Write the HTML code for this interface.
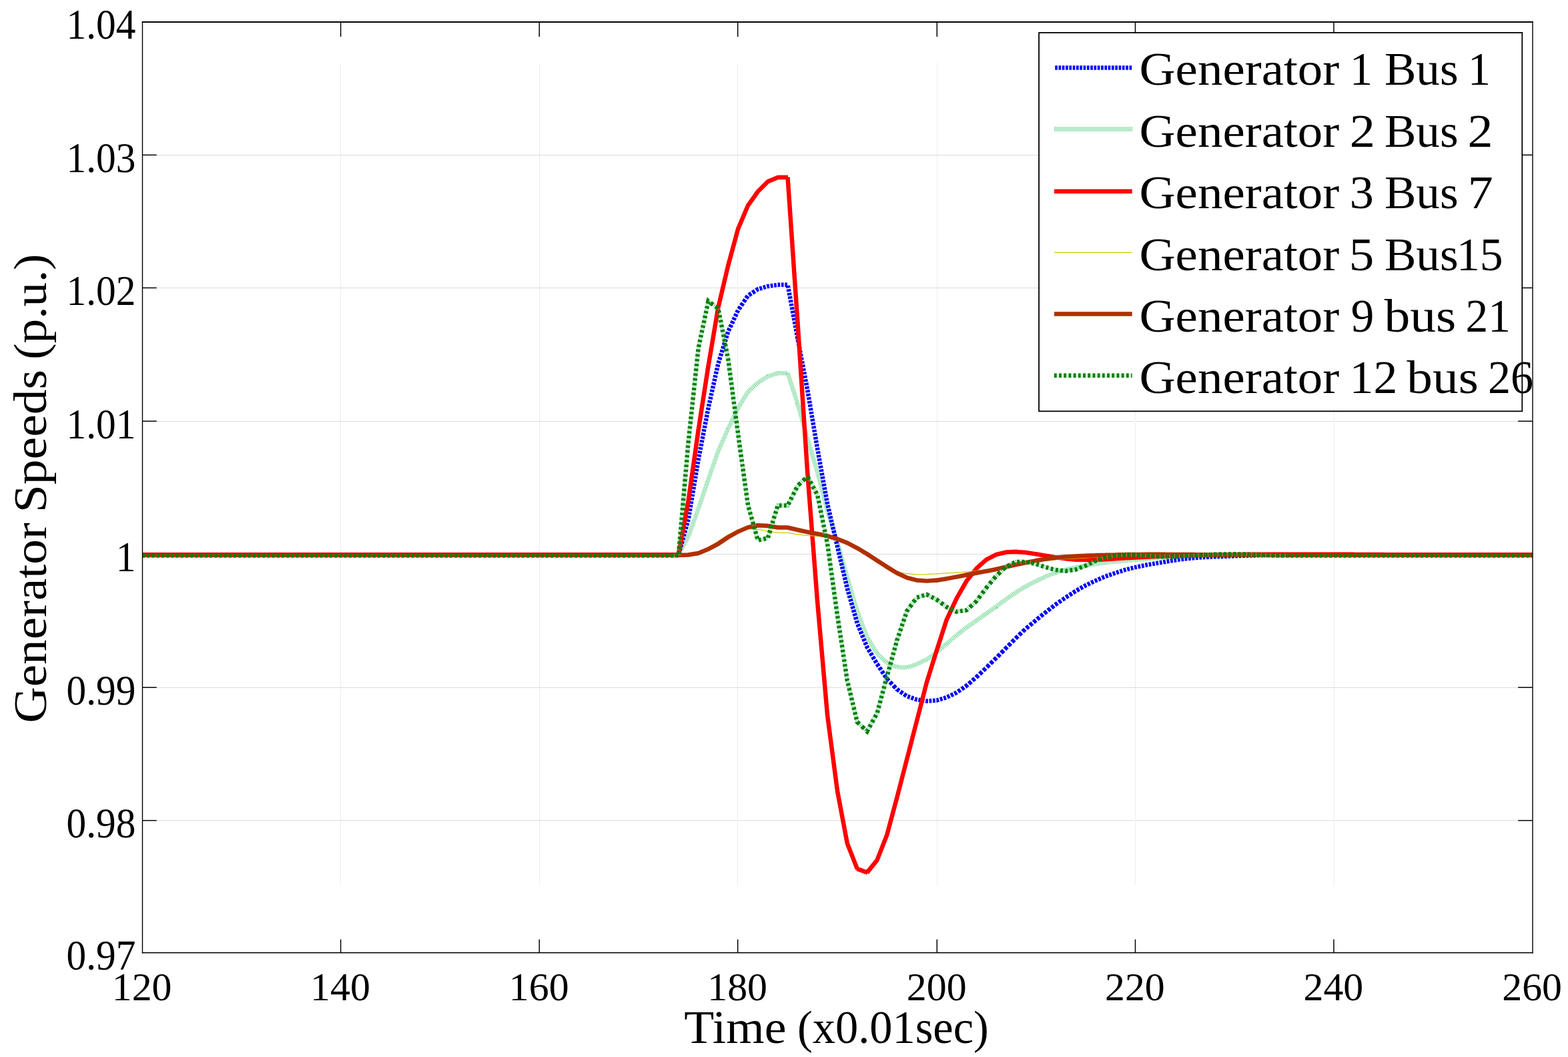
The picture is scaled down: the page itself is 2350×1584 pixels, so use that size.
<!DOCTYPE html>
<html lang="en">
<head>
<meta charset="utf-8">
<title>Generator Speeds</title>
<style>
html,body{margin:0;padding:0;background:#fff;}
body{width:2350px;height:1584px;overflow:hidden;}
svg{display:block;}
</style>
</head>
<body>
<svg xmlns="http://www.w3.org/2000/svg" width="2350" height="1584" viewBox="0 0 2350 1584">
<rect width="2350" height="1584" fill="#fff"/>
<defs><clipPath id="pc"><rect x="213.2" y="33.0" width="2083.5" height="1394.8"/></clipPath></defs>
<g stroke-width="1" stroke-dasharray="1 1" fill="none" shape-rendering="crispEdges">
<line x1="215" y1="232.5" x2="2296" y2="232.5" stroke="#bababa"/>
<line x1="215" y1="431.5" x2="2296" y2="431.5" stroke="#bababa"/>
<line x1="215" y1="631.5" x2="2296" y2="631.5" stroke="#bababa"/>
<line x1="215" y1="830.5" x2="2296" y2="830.5" stroke="#bababa"/>
<line x1="215" y1="1030.5" x2="2296" y2="1030.5" stroke="#bababa"/>
<line x1="215" y1="1229.5" x2="2296" y2="1229.5" stroke="#bababa"/>
<line x1="510.5" y1="95" x2="510.5" y2="1326" stroke="#dadada"/>
<line x1="808.5" y1="95" x2="808.5" y2="1326" stroke="#dadada"/>
<line x1="1105.5" y1="95" x2="1105.5" y2="1326" stroke="#dadada"/>
<line x1="1404.5" y1="95" x2="1404.5" y2="1326" stroke="#dadada"/>
<line x1="1701.5" y1="95" x2="1701.5" y2="1326" stroke="#dadada"/>
<line x1="1999.5" y1="95" x2="1999.5" y2="1326" stroke="#dadada"/>
</g>
<g stroke="#000" stroke-width="1.5" fill="none">
<line x1="510.6" y1="33.0" x2="510.6" y2="55.0"/>
<line x1="510.6" y1="1427.8" x2="510.6" y2="1407.8"/>
<line x1="808.3" y1="33.0" x2="808.3" y2="55.0"/>
<line x1="808.3" y1="1427.8" x2="808.3" y2="1407.8"/>
<line x1="1105.7" y1="33.0" x2="1105.7" y2="55.0"/>
<line x1="1105.7" y1="1427.8" x2="1105.7" y2="1407.8"/>
<line x1="1404.3" y1="33.0" x2="1404.3" y2="55.0"/>
<line x1="1404.3" y1="1427.8" x2="1404.3" y2="1407.8"/>
<line x1="1701.5" y1="33.0" x2="1701.5" y2="55.0"/>
<line x1="1701.5" y1="1427.8" x2="1701.5" y2="1407.8"/>
<line x1="1999.0" y1="33.0" x2="1999.0" y2="55.0"/>
<line x1="1999.0" y1="1427.8" x2="1999.0" y2="1407.8"/>
<line x1="213.2" y1="232.3" x2="234.7" y2="232.3"/>
<line x1="2296.7" y1="232.3" x2="2275.2" y2="232.3"/>
<line x1="213.2" y1="431.4" x2="234.7" y2="431.4"/>
<line x1="2296.7" y1="431.4" x2="2275.2" y2="431.4"/>
<line x1="213.2" y1="631.2" x2="234.7" y2="631.2"/>
<line x1="2296.7" y1="631.2" x2="2275.2" y2="631.2"/>
<line x1="213.2" y1="830.5" x2="234.7" y2="830.5"/>
<line x1="2296.7" y1="830.5" x2="2275.2" y2="830.5"/>
<line x1="213.2" y1="1030.2" x2="234.7" y2="1030.2"/>
<line x1="2296.7" y1="1030.2" x2="2275.2" y2="1030.2"/>
<line x1="213.2" y1="1229.6" x2="234.7" y2="1229.6"/>
<line x1="2296.7" y1="1229.6" x2="2275.2" y2="1229.6"/>
</g>
<g clip-path="url(#pc)" fill="none" stroke-linejoin="miter" stroke-miterlimit="3" stroke-width="6.5">
<path d="M213.2 831.5H1002.0M1939.5 831.5H2296.7" stroke="#74d897" stroke-dasharray="1 0.9"/>
<path d="M213.2 831.5H1002.0M1939.5 831.5H2296.7" stroke="#0000ff" stroke-dasharray="3.7 1.7"/>
<path d="M1001.7 831.5L1002.0 831.5L1002.7 831.5M1003.6 831.5L1004.6 831.5M1005.5 831.5L1006.5 831.5M1007.4 831.5L1008.4 831.5M1009.3 831.5L1010.3 831.5M1011.2 831.5L1012.2 831.5M1013.1 831.5L1014.1 831.5M1015.0 831.5L1016.0 831.5M1016.9 831.4L1017.4 830.4M1017.9 829.5L1018.4 828.5M1018.9 827.6L1019.5 826.6M1020.0 825.7L1020.5 824.7M1021.0 823.8L1021.5 822.8M1022.0 821.9L1022.6 820.9M1023.0 820.0L1023.6 819.0M1024.1 818.1L1024.6 817.1M1025.1 816.2L1025.6 815.2M1026.1 814.3L1026.7 813.3M1027.2 812.4L1027.7 811.4M1028.2 810.5L1028.7 809.5M1029.2 808.6L1029.8 807.6M1030.2 806.7L1030.8 805.7M1031.3 804.8L1031.7 804.0L1031.8 803.8M1032.1 802.9L1032.5 801.9M1032.8 801.0L1033.1 800.0M1033.5 799.1L1033.8 798.1M1034.1 797.2L1034.5 796.2M1034.8 795.3L1035.2 794.3M1035.5 793.4L1035.9 792.4M1036.2 791.5L1036.5 790.5M1036.9 789.6L1037.2 788.6M1037.6 787.7L1037.9 786.7M1038.2 785.8L1038.6 784.8M1038.9 783.9L1039.3 782.9M1039.6 782.0L1040.0 781.0M1040.3 780.1L1040.6 779.1M1041.0 778.2L1041.3 777.2M1041.6 776.3L1042.0 775.3M1042.3 774.4L1042.7 773.4M1043.0 772.5L1043.4 771.5M1043.7 770.6L1044.0 769.6M1044.4 768.7L1044.7 767.7M1045.0 766.8L1045.4 765.8M1045.7 764.9L1046.1 763.9M1046.4 763.0L1046.6 762.5L1046.8 762.0M1047.1 761.1L1047.4 760.1M1047.7 759.2L1048.0 758.2M1048.4 757.3L1048.7 756.3M1049.0 755.4L1049.3 754.4M1049.6 753.5L1050.0 752.5M1050.3 751.6L1050.6 750.6M1050.9 749.7L1051.3 748.7M1051.6 747.8L1051.9 746.8M1052.2 745.9L1052.6 744.9M1052.9 744.0L1053.2 743.0M1053.5 742.1L1053.8 741.1M1054.1 740.2L1054.5 739.2M1054.8 738.3L1055.1 737.3M1055.4 736.4L1055.8 735.4M1056.1 734.5L1056.4 733.5M1056.7 732.6L1057.1 731.6M1057.4 730.7L1057.7 729.7M1058.0 728.8L1058.4 727.8M1058.7 726.9L1059.0 725.9M1059.3 725.0L1059.6 724.0M1059.9 723.1L1060.3 722.1M1060.6 721.2L1060.9 720.2M1061.2 719.3L1061.5 718.6L1061.6 718.3M1061.9 717.4L1062.2 716.4M1062.6 715.5L1062.9 714.5M1063.2 713.6L1063.6 712.6M1063.9 711.7L1064.2 710.7M1064.5 709.8L1064.9 708.8M1065.2 707.9L1065.6 706.9M1065.9 706.0L1066.2 705.0M1066.5 704.1L1066.9 703.1M1067.2 702.2L1067.5 701.2M1067.9 700.3L1068.2 699.3M1068.5 698.4L1068.9 697.4M1069.2 696.5L1069.5 695.5M1069.9 694.6L1070.2 693.6M1070.5 692.7L1070.9 691.7M1071.2 690.8L1071.5 689.8M1071.8 688.9L1072.2 687.9M1072.5 687.0L1072.9 686.0M1073.2 685.1L1073.5 684.1M1073.8 683.2L1074.2 682.2M1074.5 681.3L1074.8 680.3M1075.2 679.4L1075.5 678.4M1075.8 677.5L1076.2 676.5M1076.5 675.6L1077.0 674.6M1077.4 673.7L1077.8 672.7M1078.2 671.8L1078.7 670.8M1079.1 669.9L1079.5 668.9M1079.9 668.0L1080.3 667.0M1080.7 666.1L1081.2 665.1M1081.6 664.2L1082.0 663.2M1082.4 662.3L1082.9 661.3M1083.3 660.4L1083.7 659.4M1084.1 658.5L1084.6 657.5M1085.0 656.6L1085.4 655.6M1085.8 654.7L1086.3 653.7M1086.7 652.8L1087.1 651.8M1087.5 650.9L1087.9 649.9M1088.3 649.0L1088.8 648.0M1089.2 647.1L1089.6 646.1M1090.0 645.2L1090.5 644.2M1090.9 643.3L1091.2 642.5L1091.3 642.3M1091.8 641.4L1092.2 640.4M1092.7 639.5L1093.2 638.5M1093.6 637.6L1094.1 636.6M1094.5 635.7L1095.0 634.7M1095.4 633.8L1095.9 632.8M1096.3 631.9L1096.8 630.9M1097.2 630.0L1097.7 629.0M1098.2 628.1L1098.6 627.1M1099.1 626.2L1099.6 625.2M1100.0 624.3L1100.5 623.3M1100.9 622.4L1101.4 621.4M1101.8 620.5L1102.3 619.5M1102.7 618.6L1103.2 617.6M1103.7 616.7L1104.1 615.7M1104.6 614.8L1105.1 613.8M1105.5 612.9L1106.0 611.9M1106.5 611.0L1107.1 610.0M1107.6 609.1L1108.2 608.1M1108.8 607.2L1109.4 606.2M1109.9 605.3L1110.5 604.3M1111.1 603.4L1111.7 602.4M1112.2 601.5L1112.8 600.5M1113.4 599.6L1114.0 598.6M1114.5 597.7L1115.1 596.7M1115.7 595.8L1116.3 594.8M1116.8 593.9L1117.4 592.9M1118.0 592.0L1118.6 591.0M1119.1 590.1L1119.7 589.1M1120.3 588.2L1120.9 587.2M1121.7 586.4L1122.7 585.5M1123.6 584.7L1124.6 583.8M1125.5 583.0L1126.5 582.0M1127.4 581.2L1128.4 580.3M1129.3 579.5L1130.3 578.6M1131.2 577.8L1132.2 576.9M1133.1 576.1L1134.1 575.1M1135.0 574.3L1135.9 573.5L1136.0 573.4M1136.9 572.9L1137.9 572.2M1138.8 571.7L1139.8 571.0M1140.7 570.4L1141.7 569.8M1142.6 569.2L1143.6 568.6M1144.5 568.0L1145.5 567.4M1146.4 566.8L1147.4 566.2M1148.3 565.6L1149.3 565.0M1150.2 564.4L1150.8 564.0L1151.2 563.9M1152.1 563.6L1153.1 563.3M1154.0 563.0L1155.0 562.6M1155.9 562.4L1156.9 562.0M1157.8 561.7L1158.8 561.4M1159.7 561.1L1160.7 560.8M1161.6 560.5L1162.6 560.2M1163.5 559.9L1164.5 559.6M1165.4 559.3L1165.7 559.2L1166.4 559.2M1167.3 559.2L1168.3 559.2M1169.2 559.2L1170.2 559.2M1171.1 559.2L1172.1 559.2M1173.0 559.2L1174.0 559.2M1174.9 559.2L1175.9 559.2M1176.8 559.2L1177.8 559.2M1178.7 559.2L1179.7 559.2M1180.6 559.2L1180.9 560.2M1181.2 561.1L1181.5 562.1M1181.8 563.0L1182.1 564.0M1182.4 564.9L1182.7 565.9M1183.0 566.8L1183.3 567.8M1183.6 568.7L1184.0 569.7M1184.3 570.6L1184.6 571.6M1184.9 572.5L1185.2 573.5M1185.5 574.4L1185.8 575.4M1186.1 576.3L1186.4 577.3M1186.7 578.2L1187.0 579.2M1187.3 580.1L1187.7 581.1M1188.0 582.0L1188.3 583.0M1188.6 583.9L1188.9 584.9M1189.2 585.8L1189.5 586.8M1189.8 587.7L1190.1 588.7M1190.4 589.6L1190.8 590.6M1191.0 591.5L1191.4 592.5M1191.7 593.4L1192.0 594.4M1192.3 595.3L1192.6 596.3M1192.9 597.2L1193.2 598.2M1193.5 599.1L1193.8 600.1M1194.1 601.0L1194.5 602.0M1194.8 602.9L1195.1 603.9M1195.4 604.8L1195.4 605.0L1195.7 605.8M1195.9 606.7L1196.2 607.7M1196.4 608.6L1196.7 609.6M1197.0 610.5L1197.3 611.5M1197.5 612.4L1197.8 613.4M1198.0 614.3L1198.3 615.3M1198.6 616.2L1198.9 617.2M1199.1 618.1L1199.4 619.1M1199.6 620.0L1199.9 621.0M1200.2 621.9L1200.5 622.9M1200.7 623.8L1201.0 624.8M1201.2 625.7L1201.5 626.7M1201.8 627.6L1202.1 628.6M1202.3 629.5L1202.6 630.5M1202.8 631.4L1203.1 632.4M1203.4 633.3L1203.7 634.3M1203.9 635.2L1204.2 636.2M1204.4 637.1L1204.7 638.1M1205.0 639.0L1205.3 640.0M1205.5 640.9L1205.8 641.9M1206.0 642.8L1206.3 643.8M1206.6 644.7L1206.9 645.7M1207.1 646.6L1207.4 647.6M1207.6 648.5L1207.9 649.5M1208.2 650.4L1208.5 651.4M1208.7 652.3L1209.0 653.3M1209.2 654.2L1209.5 655.2M1209.8 656.1L1210.1 657.1M1210.3 658.0L1210.6 659.0M1210.9 659.9L1211.2 660.9M1211.4 661.8L1211.7 662.8M1212.0 663.7L1212.3 664.7M1212.6 665.6L1212.9 666.6M1213.1 667.5L1213.4 668.5M1213.7 669.4L1214.0 670.4M1214.3 671.3L1214.6 672.3M1214.8 673.2L1215.1 674.2M1215.4 675.1L1215.7 676.1M1216.0 677.0L1216.3 678.0M1216.5 678.9L1216.8 679.9M1217.1 680.8L1217.4 681.8M1217.7 682.7L1218.0 683.7M1218.2 684.6L1218.5 685.6M1218.8 686.5L1219.1 687.5M1219.4 688.4L1219.7 689.4M1219.9 690.3L1220.2 691.3M1220.5 692.2L1220.8 693.2M1221.1 694.1L1221.4 695.1M1221.6 696.0L1221.9 697.0M1222.2 697.9L1222.5 698.9M1222.8 699.8L1223.1 700.8M1223.3 701.7L1223.6 702.7M1223.9 703.6L1224.2 704.6M1224.5 705.5L1224.7 706.5M1225.0 707.4L1225.2 708.0L1225.3 708.4M1225.5 709.3L1225.8 710.3M1226.0 711.2L1226.3 712.2M1226.5 713.1L1226.8 714.1M1227.0 715.0L1227.2 716.0M1227.5 716.9L1227.7 717.9M1228.0 718.8L1228.2 719.8M1228.5 720.7L1228.7 721.7M1228.9 722.6L1229.2 723.6M1229.4 724.5L1229.7 725.5M1229.9 726.4L1230.2 727.4M1230.4 728.3L1230.7 729.3M1230.9 730.2L1231.1 731.2M1231.4 732.1L1231.6 733.1M1231.9 734.0L1232.1 735.0M1232.4 735.9L1232.6 736.9M1232.8 737.8L1233.1 738.8M1233.3 739.7L1233.6 740.7M1233.8 741.6L1234.1 742.6M1234.3 743.5L1234.6 744.5M1234.8 745.4L1235.0 746.4M1235.3 747.3L1235.5 748.3M1235.8 749.2L1236.0 750.2M1236.3 751.1L1236.5 752.1M1236.7 753.0L1237.0 754.0M1237.2 754.9L1237.5 755.9M1237.7 756.8L1238.0 757.8M1238.2 758.7L1238.5 759.7M1238.7 760.6L1238.9 761.6M1239.2 762.5L1239.4 763.5M1239.7 764.4L1239.9 765.4M1240.2 766.3L1240.5 767.3M1240.8 768.2L1241.1 769.2M1241.4 770.1L1241.7 771.1M1242.0 772.0L1242.3 773.0M1242.6 773.9L1243.0 774.9M1243.2 775.8L1243.6 776.8M1243.9 777.7L1244.2 778.7M1244.5 779.6L1244.8 780.6M1245.1 781.5L1245.4 782.5M1245.7 783.4L1246.0 784.4M1246.3 785.3L1246.6 786.3M1246.9 787.2L1247.3 788.2M1247.6 789.1L1247.9 790.1M1248.2 791.0L1248.5 792.0M1248.8 792.9L1249.1 793.9M1249.4 794.8L1249.7 795.8M1250.0 796.7L1250.3 797.7M1250.6 798.6L1250.9 799.6M1251.2 800.5L1251.6 801.5M1251.9 802.4L1252.2 803.4M1252.5 804.3L1252.8 805.3M1253.1 806.2L1253.4 807.2M1253.7 808.1L1254.0 809.1M1254.3 810.0L1254.6 811.0M1254.9 811.9L1255.0 812.0L1255.2 812.9M1255.5 813.8L1255.7 814.8M1256.0 815.7L1256.3 816.7M1256.5 817.6L1256.8 818.6M1257.1 819.5L1257.3 820.5M1257.6 821.4L1257.9 822.4M1258.1 823.3L1258.4 824.3M1258.7 825.2L1258.9 826.2M1259.2 827.1L1259.5 828.1M1259.7 829.0L1260.0 830.0M1260.3 830.9L1260.5 831.9M1260.8 832.8L1261.1 833.8M1261.3 834.7L1261.6 835.7M1261.9 836.6L1262.1 837.6M1262.4 838.5L1262.7 839.5M1262.9 840.4L1263.2 841.4M1263.5 842.3L1263.7 843.3M1264.0 844.2L1264.3 845.2M1264.5 846.1L1264.8 847.1M1265.1 848.0L1265.3 849.0M1265.6 849.9L1265.9 850.9M1266.1 851.8L1266.4 852.8M1266.7 853.7L1266.9 854.7M1267.2 855.6L1267.5 856.6M1267.7 857.5L1268.0 858.5M1268.3 859.4L1268.6 860.4M1268.8 861.3L1269.1 862.3M1269.3 863.2L1269.6 864.2M1269.9 865.1L1270.2 866.1M1270.4 867.0L1270.7 868.0M1271.0 868.9L1271.3 869.9M1271.5 870.8L1271.8 871.8M1272.1 872.7L1272.4 873.7M1272.6 874.6L1272.9 875.6M1273.2 876.5L1273.5 877.5M1273.8 878.4L1274.0 879.4M1274.3 880.3L1274.6 881.3M1274.9 882.2L1275.2 883.2M1275.4 884.1L1275.7 885.1M1276.0 886.0L1276.3 887.0M1276.5 887.9L1276.8 888.9M1277.1 889.8L1277.4 890.8M1277.6 891.7L1277.9 892.7M1278.2 893.6L1278.5 894.6M1278.7 895.5L1279.0 896.5M1279.3 897.4L1279.6 898.4M1279.9 899.3L1280.1 900.3M1280.4 901.2L1280.7 902.2M1281.0 903.1L1281.3 904.1M1281.5 905.0L1281.8 906.0M1282.1 906.9L1282.4 907.9M1282.6 908.8L1282.9 909.8M1283.2 910.7L1283.5 911.7M1283.7 912.6L1284.0 913.6M1284.3 914.5L1284.6 915.5M1284.9 916.4L1285.3 917.4M1285.6 918.3L1286.0 919.3M1286.3 920.2L1286.7 921.2M1287.1 922.1L1287.5 923.1M1287.8 924.0L1288.2 925.0M1288.5 925.9L1288.9 926.9M1289.3 927.8L1289.7 928.8M1290.0 929.7L1290.4 930.7M1290.7 931.6L1291.1 932.6M1291.5 933.5L1291.8 934.5M1292.2 935.4L1292.6 936.4M1292.9 937.3L1293.3 938.3M1293.6 939.2L1294.0 940.2M1294.4 941.1L1294.8 942.1M1295.1 943.0L1295.5 944.0M1295.8 944.9L1296.2 945.9M1296.6 946.8L1297.0 947.8M1297.3 948.7L1297.7 949.7M1298.0 950.6L1298.4 951.6M1298.8 952.5L1299.1 953.5M1299.5 954.4L1299.6 954.7L1300.0 955.4M1300.6 956.3L1301.2 957.3M1301.7 958.2L1302.4 959.2M1302.9 960.1L1303.5 961.1M1304.1 962.0L1304.7 963.0M1305.2 963.9L1305.8 964.9M1306.4 965.8L1307.0 966.8M1307.5 967.7L1308.1 968.7M1308.7 969.6L1309.3 970.6M1309.8 971.5L1310.4 972.5M1311.0 973.4L1311.6 974.4M1312.1 975.3L1312.7 976.3M1313.3 977.2L1313.9 978.2M1314.4 979.1L1314.5 979.2L1315.4 980.1M1316.3 981.0L1317.3 981.9M1318.2 982.8L1319.2 983.7M1320.1 984.6L1321.1 985.5M1322.0 986.4L1323.0 987.3M1323.9 988.2L1324.9 989.2M1325.8 990.0L1326.8 991.0M1327.7 991.8L1328.7 992.8M1329.6 993.5L1330.6 993.9M1331.5 994.3L1332.5 994.7M1333.4 995.1L1334.4 995.5M1335.3 995.9L1336.3 996.3M1337.2 996.7L1338.2 997.1M1339.1 997.5L1340.1 997.9M1341.0 998.3L1342.0 998.7M1342.9 999.0L1343.9 999.5M1344.8 999.6L1345.8 999.7M1346.7 999.7L1347.7 999.8M1348.6 999.9L1349.6 999.9M1350.5 1000.0L1351.5 1000.0M1352.4 1000.1L1353.4 1000.2M1354.3 1000.2L1355.3 1000.3M1356.2 1000.3L1357.2 1000.4M1358.1 1000.4L1359.1 1000.5M1360.0 1000.2L1361.0 999.8M1361.9 999.5L1362.9 999.2M1363.8 998.9L1364.8 998.5M1365.7 998.2L1366.7 997.8M1367.6 997.5L1368.6 997.2M1369.5 996.9L1370.5 996.5M1371.4 996.2L1372.4 995.9M1373.3 995.5L1374.0 995.3L1374.3 995.2M1375.2 994.7L1376.2 994.2M1377.1 993.8L1378.1 993.3M1379.0 992.9L1380.0 992.4M1380.9 992.0L1381.9 991.5M1382.8 991.1L1383.8 990.6M1384.7 990.2L1385.7 989.7M1386.6 989.3L1387.6 988.8M1388.5 988.4L1388.9 988.2L1389.5 987.7M1390.4 987.1L1391.4 986.4M1392.3 985.7L1393.3 985.0M1394.2 984.3L1395.2 983.6M1396.1 982.9L1397.1 982.2M1398.0 981.5L1399.0 980.8M1399.9 980.1L1400.9 979.4M1401.8 978.7L1402.8 978.0M1403.7 977.3L1403.8 977.3L1404.7 976.5M1405.6 975.8L1406.6 975.0M1407.5 974.2L1408.5 973.4M1409.4 972.6L1410.4 971.8M1411.3 971.1L1412.3 970.2M1413.2 969.5L1414.2 968.7M1415.1 967.9L1416.1 967.1M1417.0 966.4L1418.0 965.5M1418.9 964.8L1419.9 963.9M1420.8 963.1L1421.8 962.3M1422.7 961.5L1423.7 960.6M1424.6 959.8L1425.6 959.0M1426.5 958.2L1427.5 957.3M1428.4 956.5L1429.4 955.7M1430.3 954.9L1431.3 954.0M1432.2 953.2L1433.2 952.4M1434.1 951.6L1435.1 950.9M1436.0 950.2L1437.0 949.4M1437.9 948.7L1438.9 947.9M1439.8 947.2L1440.8 946.4M1441.7 945.7L1442.7 944.9M1443.6 944.2L1444.6 943.5M1445.5 942.8L1446.5 942.0M1447.4 941.3L1448.4 940.5M1449.3 939.9L1450.3 939.2M1451.2 938.5L1452.2 937.8M1453.1 937.2L1454.1 936.5M1455.0 935.8L1456.0 935.1M1456.9 934.5L1457.9 933.8M1458.8 933.2L1459.8 932.5M1460.7 931.8L1461.7 931.1M1462.6 930.5L1463.3 930.0L1463.6 929.8M1464.5 929.1L1465.5 928.4M1466.4 927.8L1467.4 927.1M1468.3 926.5L1469.3 925.8M1470.2 925.1L1471.2 924.4M1472.1 923.8L1473.1 923.1M1474.0 922.4L1475.0 921.7M1475.9 921.1L1476.9 920.4M1477.8 919.8L1478.2 919.5L1478.8 919.0M1479.7 918.4L1480.7 917.7M1481.6 917.1L1482.6 916.3M1483.5 915.7L1484.5 915.0M1485.4 914.3L1486.4 913.6M1487.3 913.0L1488.3 912.3M1489.2 911.6L1490.2 910.9M1491.1 910.3L1492.1 909.6M1493.0 908.9L1493.1 908.9L1494.0 908.2M1494.9 907.5L1495.9 906.8M1496.8 906.1L1497.8 905.4M1498.7 904.7L1499.7 904.0M1500.6 903.3L1501.6 902.6M1502.5 901.9L1503.5 901.2M1504.4 900.5L1505.4 899.8M1506.3 899.1L1507.3 898.4M1508.2 897.7L1509.2 897.0M1510.1 896.4L1511.1 895.7M1512.0 895.1L1513.0 894.4M1513.9 893.8L1514.9 893.1M1515.8 892.5L1516.8 891.8M1517.7 891.1L1518.7 890.4M1519.6 889.8L1520.6 889.1M1521.5 888.5L1522.5 887.8M1523.4 887.2L1524.4 886.6M1525.3 886.1L1526.3 885.5M1527.2 884.9L1528.2 884.3M1529.1 883.8L1530.1 883.2M1531.0 882.6L1532.0 882.0M1532.9 881.5L1533.9 880.9M1534.8 880.4L1535.8 879.7M1536.7 879.2L1537.7 878.6L1537.7 878.6M1538.6 878.1L1539.6 877.6M1540.5 877.1L1541.5 876.6M1542.4 876.2L1543.4 875.6M1544.3 875.2L1545.3 874.7M1546.2 874.2L1547.2 873.7M1548.1 873.2L1549.1 872.7M1550.0 872.2L1551.0 871.7M1551.9 871.3L1552.6 870.9L1552.9 870.7M1553.8 870.3L1554.8 869.8M1555.7 869.4L1556.7 868.9M1557.6 868.5L1558.6 868.0M1559.5 867.6L1560.5 867.1M1561.4 866.7L1562.4 866.2M1563.3 865.8L1564.3 865.3M1565.2 864.9L1566.2 864.4M1567.1 864.0L1567.5 863.8L1568.1 863.6M1569.0 863.2L1570.0 862.8M1570.9 862.5L1571.9 862.1M1572.8 861.7L1573.8 861.3M1574.7 861.0L1575.7 860.6M1576.6 860.2L1577.6 859.8M1578.5 859.5L1579.5 859.1M1580.4 858.8L1581.4 858.4M1582.3 858.0L1582.4 858.0L1583.3 857.7M1584.2 857.4L1585.2 857.1M1586.1 856.9L1587.1 856.6M1588.0 856.3L1589.0 856.0M1589.9 855.7L1590.9 855.4M1591.8 855.1L1592.8 854.8M1593.7 854.6L1594.7 854.3M1595.6 854.0L1596.6 853.7M1597.5 853.4L1598.5 853.2M1599.4 853.0L1600.4 852.8M1601.3 852.6L1602.3 852.4M1603.2 852.2L1604.2 852.0M1605.1 851.8L1606.1 851.5M1607.0 851.3L1608.0 851.1M1608.9 850.9L1609.9 850.7M1610.8 850.5L1611.8 850.3M1612.7 850.1L1613.7 849.9M1614.6 849.8L1615.6 849.6M1616.5 849.5L1617.5 849.3M1618.4 849.1L1619.4 849.0M1620.3 848.8L1621.3 848.7M1622.2 848.5L1623.2 848.3M1624.1 848.2L1625.1 848.0M1626.0 847.9L1627.0 847.7L1627.0 847.7M1627.9 847.5L1628.9 847.4M1629.8 847.2L1630.8 847.0M1631.7 846.9L1632.7 846.7M1633.6 846.5L1634.6 846.4M1635.5 846.2L1636.5 846.0M1637.4 845.9L1638.4 845.7M1639.3 845.5L1640.3 845.4M1641.2 845.2L1641.9 845.1L1642.2 845.1M1643.1 844.9L1644.1 844.8M1645.0 844.7L1646.0 844.5M1646.9 844.4L1647.9 844.3M1648.8 844.2L1649.8 844.0M1650.7 843.9L1651.7 843.8M1652.6 843.7L1653.6 843.5M1654.5 843.4L1655.5 843.3M1656.4 843.1L1656.8 843.1L1657.4 843.0M1658.3 842.9L1659.3 842.8M1660.2 842.7L1661.2 842.6M1662.1 842.5L1663.1 842.4M1664.0 842.3L1665.0 842.2M1665.9 842.1L1666.9 842.0M1667.8 841.9L1668.8 841.8M1669.7 841.7L1670.7 841.6M1671.6 841.5L1671.7 841.5L1672.6 841.4M1673.5 841.3L1674.5 841.2M1675.4 841.2L1676.4 841.1M1677.3 841.0L1678.3 840.9M1679.2 840.8L1680.2 840.8M1681.1 840.7L1682.1 840.6M1683.0 840.5L1684.0 840.4M1684.9 840.3L1685.9 840.3M1686.8 840.2L1687.8 840.1M1688.7 840.0L1689.7 839.9M1690.6 839.8L1691.6 839.8M1692.5 839.7L1693.5 839.6M1694.4 839.5L1695.4 839.4M1696.3 839.3L1697.3 839.3M1698.2 839.2L1699.2 839.1M1700.1 839.0L1701.1 838.9M1702.0 838.9L1703.0 838.8M1703.9 838.7L1704.9 838.6M1705.8 838.5L1706.8 838.5M1707.7 838.4L1708.7 838.3M1709.6 838.2L1710.6 838.2M1711.5 838.1L1712.5 838.0M1713.4 837.9L1714.4 837.9M1715.3 837.8L1716.3 837.7L1716.3 837.7M1717.2 837.6L1718.2 837.6M1719.1 837.5L1720.1 837.4M1721.0 837.4L1722.0 837.3M1722.9 837.3L1723.9 837.2M1724.8 837.1L1725.8 837.1M1726.7 837.0L1727.7 836.9M1728.6 836.9L1729.6 836.8M1730.5 836.7L1731.2 836.7L1731.5 836.7M1732.4 836.6L1733.4 836.6M1734.3 836.5L1735.3 836.4M1736.2 836.4L1737.2 836.3M1738.1 836.3L1739.1 836.2M1740.0 836.2L1741.0 836.1M1741.9 836.1L1742.9 836.0M1743.8 835.9L1744.8 835.9M1745.7 835.8L1746.1 835.8L1746.7 835.8M1747.6 835.7L1748.6 835.7M1749.5 835.6L1750.5 835.6M1751.4 835.5L1752.4 835.5M1753.3 835.4L1754.3 835.4M1755.2 835.3L1756.2 835.3M1757.1 835.2L1758.1 835.2M1759.0 835.1L1760.0 835.0M1760.9 835.0L1760.9 835.0L1761.9 835.0M1762.8 834.9L1763.8 834.9M1764.7 834.8L1765.7 834.8M1766.6 834.7L1767.6 834.7M1768.5 834.6L1769.5 834.6M1770.4 834.6L1771.4 834.5M1772.3 834.5L1773.3 834.4M1774.2 834.4L1775.2 834.3M1776.1 834.3L1777.1 834.2M1778.0 834.2L1779.0 834.2M1779.9 834.1L1780.9 834.1M1781.8 834.1L1782.8 834.0M1783.7 834.0L1784.7 833.9M1785.6 833.9L1786.6 833.9M1787.5 833.8L1788.5 833.8M1789.4 833.8L1790.4 833.7M1791.3 833.7L1792.3 833.6M1793.2 833.6L1794.2 833.6M1795.1 833.6L1796.1 833.5M1797.0 833.5L1798.0 833.5M1798.9 833.4L1799.9 833.4M1800.8 833.4L1801.8 833.3M1802.7 833.3L1803.7 833.3M1804.6 833.2L1805.6 833.2L1805.6 833.2M1806.5 833.2L1807.5 833.1M1808.4 833.1L1809.4 833.1M1810.3 833.1L1811.3 833.0M1812.2 833.0L1813.2 833.0M1814.1 833.0L1815.1 832.9M1816.0 832.9L1817.0 832.9M1817.9 832.9L1818.9 832.8M1819.8 832.8L1820.5 832.8L1820.8 832.8M1821.7 832.8L1822.7 832.7M1823.6 832.7L1824.6 832.7M1825.5 832.7L1826.5 832.6M1827.4 832.6L1828.4 832.6M1829.3 832.6L1830.3 832.5M1831.2 832.5L1832.2 832.5M1833.1 832.5L1834.1 832.4M1835.0 832.4L1835.4 832.4L1836.0 832.4M1836.9 832.4L1837.9 832.3M1838.8 832.3L1839.8 832.3M1840.7 832.3L1841.7 832.2M1842.6 832.2L1843.6 832.2M1844.5 832.2L1845.5 832.1M1846.4 832.1L1847.4 832.1M1848.3 832.1L1849.3 832.0M1850.2 832.0L1850.2 832.0L1851.2 832.0M1852.1 831.9L1853.1 831.9M1854.0 831.9L1855.0 831.8M1855.9 831.8L1856.9 831.8M1857.8 831.7L1858.8 831.7M1859.7 831.7L1860.7 831.6M1861.6 831.6L1862.6 831.6M1863.5 831.6L1864.5 831.5M1865.4 831.5L1866.4 831.5M1867.3 831.5L1868.3 831.5M1869.2 831.5L1870.2 831.5M1871.1 831.5L1872.1 831.5M1873.0 831.5L1874.0 831.5M1874.9 831.5L1875.9 831.5M1876.8 831.5L1877.8 831.5M1878.7 831.5L1879.7 831.5M1880.6 831.5L1881.6 831.5M1882.5 831.5L1883.5 831.5M1884.4 831.5L1885.4 831.5M1886.3 831.5L1887.3 831.5M1888.2 831.5L1889.2 831.5M1890.1 831.5L1891.1 831.5M1892.0 831.5L1893.0 831.5M1893.9 831.5L1894.9 831.5L1894.9 831.5M1895.8 831.5L1896.8 831.5M1897.7 831.5L1898.7 831.5M1899.6 831.5L1900.6 831.5M1901.5 831.5L1902.5 831.5M1903.4 831.5L1904.4 831.5M1905.3 831.5L1906.3 831.5M1907.2 831.5L1908.2 831.5M1909.1 831.5L1909.8 831.5L1910.1 831.5M1911.0 831.5L1912.0 831.5M1912.9 831.5L1913.9 831.5M1914.8 831.5L1915.8 831.5M1916.7 831.5L1917.7 831.5M1918.6 831.5L1919.6 831.5M1920.5 831.5L1921.5 831.5M1922.4 831.5L1923.4 831.5M1924.3 831.5L1924.6 831.5L1925.3 831.5M1926.2 831.5L1927.2 831.5M1928.1 831.5L1929.1 831.5M1930.0 831.5L1931.0 831.5M1931.9 831.5L1932.9 831.5M1933.8 831.5L1934.8 831.5M1935.7 831.5L1936.7 831.5M1937.6 831.5L1938.6 831.5M1939.5 831.5L1939.5 831.5L1940.5 831.5" stroke="#74d897"/>
<path d="M1001.6 831.5L1002.0 831.5L1005.3 831.5M1007.0 831.5L1010.7 831.5M1012.4 831.5L1016.1 831.5M1017.1 830.5L1018.1 826.8M1018.6 825.1L1019.6 821.4M1020.1 819.7L1021.1 816.0M1021.6 814.3L1022.6 810.6M1023.1 808.9L1024.1 805.2M1024.6 803.5L1025.6 799.8M1026.1 798.1L1027.1 794.4M1027.6 792.7L1028.6 789.0M1029.1 787.3L1030.2 783.6M1030.6 781.9L1031.7 778.2M1032.0 776.5L1032.6 772.8M1032.9 771.1L1033.5 767.4M1033.8 765.7L1034.4 762.0M1034.7 760.3L1035.3 756.6M1035.6 754.9L1036.2 751.2M1036.5 749.5L1037.1 745.8M1037.4 744.1L1038.0 740.4M1038.3 738.7L1038.9 735.0M1039.2 733.3L1039.8 729.6M1040.1 727.9L1040.7 724.2M1041.0 722.5L1041.6 718.8M1041.9 717.1L1042.5 713.4M1042.8 711.7L1043.4 708.0M1043.7 706.3L1044.3 702.6M1044.6 700.9L1045.2 697.2M1045.5 695.5L1046.1 691.8M1046.4 690.1L1046.6 689.0L1047.1 686.4M1047.4 684.7L1048.1 681.0M1048.5 679.3L1049.2 675.6M1049.5 673.9L1050.2 670.2M1050.6 668.5L1051.3 664.8M1051.6 663.1L1052.3 659.4M1052.6 657.7L1053.4 654.0M1053.7 652.3L1054.4 648.6M1054.7 646.9L1055.4 643.2M1055.8 641.5L1056.5 637.8M1056.8 636.1L1057.5 632.4M1057.9 630.7L1058.6 627.0M1058.9 625.3L1059.6 621.6M1059.9 619.9L1060.7 616.2M1061.0 614.5L1061.5 612.0L1061.7 610.8M1062.1 609.1L1062.9 605.4M1063.3 603.7L1064.1 600.0M1064.5 598.3L1065.3 594.6M1065.7 592.9L1066.5 589.2M1066.9 587.5L1067.7 583.8M1068.1 582.1L1068.9 578.4M1069.3 576.7L1070.1 573.0M1070.5 571.3L1071.3 567.6M1071.7 565.9L1072.5 562.2M1072.9 560.5L1073.7 556.8M1074.1 555.1L1074.9 551.4M1075.3 549.7L1076.1 546.0M1076.6 544.3L1077.7 540.6M1078.2 538.9L1079.4 535.2M1079.9 533.5L1081.1 529.8M1081.6 528.1L1082.7 524.4M1083.3 522.7L1084.4 519.0M1084.9 517.3L1086.1 513.6M1086.6 511.9L1087.8 508.2M1088.3 506.5L1089.4 502.8M1090.0 501.1L1091.1 497.4M1091.8 495.7L1093.6 492.0M1094.3 490.3L1096.1 486.6M1096.9 484.9L1098.6 481.2M1099.4 479.5L1101.1 475.8M1101.9 474.1L1103.6 470.4M1104.4 468.7L1106.1 465.0M1107.3 463.3L1109.8 459.6M1110.9 457.9L1113.4 454.2M1114.6 452.5L1117.1 448.8M1118.2 447.1L1120.7 443.4M1122.3 442.2L1126.0 439.8M1127.7 438.7L1131.4 436.2M1133.1 435.1L1135.9 433.3L1136.8 433.0M1138.5 432.6L1142.2 431.5M1143.9 431.0L1147.6 429.9M1149.3 429.4L1150.8 429.0L1153.0 428.7M1154.7 428.4L1158.4 427.9M1160.1 427.6L1163.8 427.1M1165.5 426.8L1165.7 426.8L1169.2 426.8M1170.9 426.8L1174.6 426.8M1176.3 426.8L1180.0 426.8M1180.8 427.9L1181.4 431.6M1181.8 433.3L1182.4 437.0M1182.8 438.7L1183.4 442.4M1183.8 444.1L1184.4 447.8M1184.8 449.5L1185.4 453.2M1185.8 454.9L1186.4 458.6M1186.8 460.3L1187.4 464.0M1187.8 465.7L1188.5 469.4M1188.8 471.1L1189.5 474.8M1189.8 476.5L1190.5 480.2M1190.8 481.9L1191.5 485.6M1191.8 487.3L1192.5 491.0M1192.8 492.7L1193.5 496.4M1193.8 498.1L1194.5 501.8M1194.8 503.5L1195.4 507.0L1195.5 507.2M1195.8 508.9L1196.5 512.6M1196.8 514.3L1197.5 518.0M1197.9 519.7L1198.6 523.4M1198.9 525.1L1199.6 528.8M1199.9 530.5L1200.6 534.2M1200.9 535.9L1201.6 539.6M1202.0 541.3L1202.7 545.0M1203.0 546.7L1203.7 550.4M1204.0 552.1L1204.7 555.8M1205.1 557.5L1205.8 561.2M1206.1 562.9L1206.8 566.6M1207.1 568.3L1207.8 572.0M1208.2 573.7L1208.9 577.4M1209.2 579.1L1209.9 582.8M1210.2 584.5L1210.3 585.0L1210.9 588.2M1211.1 589.9L1211.8 593.6M1212.1 595.3L1212.7 599.0M1213.0 600.7L1213.6 604.4M1213.9 606.1L1214.5 609.8M1214.8 611.5L1215.4 615.2M1215.7 616.9L1216.3 620.6M1216.6 622.3L1217.2 626.0M1217.5 627.7L1218.2 631.4M1218.4 633.1L1219.1 636.8M1219.4 638.5L1220.0 642.2M1220.3 643.9L1220.9 647.6M1221.2 649.3L1221.8 653.0M1222.1 654.7L1222.7 658.4M1223.0 660.1L1223.6 663.8M1223.9 665.5L1224.5 669.2M1224.8 670.9L1225.2 673.0L1225.5 674.6M1225.8 676.3L1226.5 680.0M1226.8 681.7L1227.4 685.4M1227.8 687.1L1228.4 690.8M1228.7 692.5L1229.4 696.2M1229.7 697.9L1230.4 701.6M1230.7 703.3L1231.4 707.0M1231.7 708.7L1232.3 712.4M1232.7 714.1L1233.3 717.8M1233.6 719.5L1234.3 723.2M1234.6 724.9L1235.3 728.6M1235.6 730.3L1236.3 734.0M1236.6 735.7L1237.2 739.4M1237.6 741.1L1238.2 744.8M1238.5 746.5L1239.2 750.2M1239.5 751.9L1240.1 755.0L1240.2 755.6M1240.6 757.3L1241.5 761.0M1241.9 762.7L1242.7 766.4M1243.1 768.1L1244.0 771.8M1244.4 773.5L1245.2 777.2M1245.6 778.9L1246.5 782.6M1246.9 784.3L1247.7 788.0M1248.1 789.7L1249.0 793.4M1249.4 795.1L1250.3 798.8M1250.7 800.5L1251.5 804.2M1251.9 805.9L1252.8 809.6M1253.2 811.3L1254.0 815.0M1254.4 816.7L1255.0 819.0L1255.3 820.4M1255.7 822.1L1256.6 825.8M1257.0 827.5L1257.8 831.2M1258.2 832.9L1259.1 836.6M1259.5 838.3L1260.4 842.0M1260.8 843.7L1261.7 847.4M1262.1 849.1L1262.9 852.8M1263.3 854.5L1264.2 858.2M1264.6 859.9L1265.5 863.6M1265.9 865.3L1266.8 869.0M1267.2 870.7L1268.0 874.4M1268.4 876.1L1269.3 879.8M1269.7 881.5L1269.8 882.0L1270.8 885.2M1271.2 886.9L1272.3 890.6M1272.8 892.3L1273.8 896.0M1274.3 897.7L1275.4 901.4M1275.9 903.1L1276.9 906.8M1277.4 908.5L1278.5 912.2M1279.0 913.9L1280.0 917.6M1280.5 919.3L1281.6 923.0M1282.1 924.7L1283.1 928.4M1283.6 930.1L1284.7 933.8M1285.3 935.5L1286.9 939.2M1287.6 940.9L1289.1 944.6M1289.8 946.3L1291.3 950.0M1292.0 951.7L1293.6 955.4M1294.3 957.1L1295.8 960.8M1296.5 962.5L1298.0 966.2M1298.7 967.9L1299.6 970.0L1300.6 971.6M1301.6 973.3L1303.8 977.0M1304.8 978.7L1307.0 982.4M1308.0 984.1L1310.2 987.8M1311.2 989.5L1313.4 993.2M1314.4 994.9L1314.5 995.0L1316.9 998.6M1318.0 1000.3L1320.5 1004.0M1321.6 1005.7L1324.1 1009.4M1325.2 1011.1L1327.7 1014.8M1328.8 1016.5L1329.4 1017.4L1332.1 1020.2M1333.7 1021.9L1337.2 1025.6M1338.8 1027.3L1342.4 1031.0M1344.0 1032.7L1344.2 1033.0L1347.7 1035.4M1349.4 1036.5L1353.1 1039.1M1354.8 1040.2L1358.5 1042.8M1360.2 1043.6L1363.9 1044.8M1365.6 1045.4L1369.3 1046.7M1371.0 1047.3L1374.0 1048.3L1374.7 1048.4M1376.4 1048.7L1380.1 1049.2M1381.8 1049.5L1385.5 1050.1M1387.2 1050.3L1388.9 1050.6L1390.9 1050.5M1392.6 1050.4L1396.3 1050.1M1398.0 1050.0L1401.7 1049.7M1403.4 1049.6L1403.8 1049.6L1407.1 1048.6M1408.8 1048.1L1412.5 1047.0M1414.2 1046.5L1417.9 1045.3M1419.6 1044.7L1423.3 1042.9M1425.0 1042.1L1428.7 1040.3M1430.4 1039.5L1433.5 1038.0L1434.1 1037.6M1435.8 1036.4L1439.5 1033.9M1441.2 1032.7L1444.9 1030.1M1446.6 1029.0L1448.4 1027.7L1450.3 1026.1M1452.0 1024.6L1455.7 1021.4M1457.4 1019.9L1461.1 1016.7M1462.8 1015.3L1463.3 1014.8L1466.5 1011.8M1468.2 1010.1L1471.9 1006.6M1473.6 1005.0L1477.3 1001.5M1479.0 999.8L1482.7 996.2M1484.4 994.5L1488.1 990.9M1489.8 989.2L1493.1 986.0L1493.5 985.6M1495.2 983.9L1498.8 980.2M1500.5 978.5L1504.2 974.8M1505.9 973.1L1507.9 971.0L1509.5 969.4M1511.2 967.7L1514.9 964.0M1516.6 962.3L1520.3 958.6M1521.9 956.9L1522.8 956.0L1525.6 953.3M1527.3 951.7L1531.0 948.2M1532.7 946.5L1536.4 943.0M1538.1 941.4L1541.8 938.4M1543.5 937.0L1547.2 933.9M1548.9 932.5L1552.6 929.5L1552.6 929.5M1554.3 928.1L1558.0 925.0M1559.7 923.6L1563.4 920.6M1565.1 919.2L1567.5 917.3L1568.8 916.2M1570.5 914.9L1574.2 912.0M1575.9 910.7L1579.6 907.8M1581.3 906.5L1582.4 905.7L1585.0 903.8M1586.7 902.7L1590.4 900.1M1592.1 898.9L1595.8 896.4M1597.5 895.2L1601.2 892.8M1602.9 891.7L1606.6 889.3M1608.3 888.2L1612.0 885.8M1613.7 884.8L1617.4 882.7M1619.1 881.7L1622.8 879.6M1624.5 878.7L1627.0 877.3L1628.2 876.7M1629.9 875.9L1633.6 874.1M1635.3 873.3L1639.0 871.6M1640.7 870.7L1641.9 870.2L1644.4 869.1M1646.1 868.4L1649.8 866.8M1651.5 866.0L1655.2 864.5M1656.9 863.7L1660.6 862.4M1662.3 861.9L1666.0 860.6M1667.7 860.0L1671.4 858.7M1673.1 858.1L1676.8 857.0M1678.5 856.4L1682.2 855.3M1683.9 854.7L1686.5 853.9L1687.6 853.6M1689.3 853.2L1693.0 852.3M1694.7 851.9L1698.4 850.9M1700.1 850.5L1701.4 850.2L1703.8 849.7M1705.5 849.3L1709.2 848.5M1710.9 848.2L1714.6 847.4M1716.3 847.0L1720.0 846.3M1721.7 846.0L1725.4 845.4M1727.1 845.1L1730.8 844.5M1732.5 844.2L1736.2 843.6M1737.9 843.3L1741.6 842.7M1743.3 842.4L1746.1 842.0L1747.0 841.8M1748.7 841.5L1752.4 840.9M1754.1 840.6L1757.8 840.0M1759.5 839.7L1760.9 839.5L1763.2 839.2M1764.9 838.9L1768.6 838.4M1770.3 838.2L1774.0 837.7M1775.7 837.4L1775.8 837.4L1779.4 837.1M1781.1 836.9L1784.8 836.6M1786.5 836.4L1790.2 836.0M1791.9 835.9L1795.6 835.7M1797.3 835.6L1801.0 835.3M1802.7 835.2L1805.6 835.0L1806.4 835.0M1808.1 834.9L1811.8 834.7M1813.5 834.6L1817.2 834.5M1818.9 834.4L1820.5 834.3L1822.6 834.2M1824.3 834.2L1828.0 834.0M1829.7 834.0L1833.4 833.9M1835.1 833.8L1835.4 833.8L1838.8 833.7M1840.5 833.6L1844.2 833.5M1845.9 833.4L1849.6 833.3M1851.3 833.3L1855.0 833.1M1856.7 833.1L1860.4 833.0M1862.1 832.9L1865.1 832.8L1865.8 832.8M1867.5 832.7L1871.2 832.6M1872.9 832.6L1876.6 832.5M1878.3 832.4L1880.0 832.4L1882.0 832.3M1883.7 832.3L1887.4 832.2M1889.1 832.2L1892.8 832.1M1894.5 832.0L1894.9 832.0L1898.2 831.9M1899.9 831.8L1903.6 831.7M1905.3 831.6L1909.0 831.5M1910.7 831.5L1914.4 831.5M1916.1 831.5L1919.8 831.5M1921.5 831.5L1924.6 831.5L1925.2 831.5M1926.9 831.5L1930.6 831.5M1932.3 831.5L1936.0 831.5M1937.7 831.5L1939.5 831.5L1941.4 831.5" stroke="#0000ff"/>
<path d="M212.75 831.20L1017.29 831.20M1016.75 831.64L1031.80 749.56M1031.65 750.45L1046.66 644.55M1046.53 645.44L1061.55 548.56M1061.41 549.44L1076.44 460.56M1076.26 461.44L1091.35 397.56M1091.13 398.43L1106.25 342.57M1105.95 343.41L1121.19 307.59M1120.75 308.37L1136.15 286.63M1135.58 287.32L1151.09 271.68M1150.36 272.17L1166.07 265.63M1165.21 265.80L1180.99 265.80M1180.51 265.35L1195.45 483.45M1195.39 482.55L1210.33 710.45M1210.27 709.55L1225.22 903.45M1225.15 902.55L1240.11 1072.45M1240.01 1071.55L1255.01 1185.45M1254.87 1184.56L1269.92 1264.44M1269.67 1263.58L1284.88 1302.42M1284.29 1301.84L1300.02 1307.66M1299.31 1307.85L1314.76 1288.65M1314.31 1289.42L1329.52 1250.58M1329.24 1251.43L1344.36 1195.07M1344.13 1195.94L1359.24 1137.56M1359.01 1138.44L1374.12 1080.06M1373.90 1080.94L1389.00 1022.06M1388.75 1022.93L1403.91 974.57M1403.63 975.43L1418.79 928.57M1418.46 929.41L1433.73 896.59M1433.31 897.39L1448.64 870.61M1448.14 871.35L1463.58 851.65M1462.96 852.30L1478.52 838.40M1477.78 838.91L1493.46 830.79M1492.63 831.10L1508.39 827.50M1507.50 827.62L1523.28 826.78M1522.38 826.76L1538.16 828.04M1537.27 827.93L1553.04 830.37M1552.15 830.23L1567.92 832.87M1567.03 832.72L1582.80 835.48M1581.91 835.34L1597.69 837.36M1596.79 837.26L1612.57 838.64M1611.67 838.59L1627.45 839.01M1626.55 839.00L1642.34 838.90M1641.44 838.92L1657.22 838.28M1656.32 838.33L1672.10 837.27M1671.20 837.33L1686.98 836.27M1686.08 836.32L1701.86 835.48M1700.96 835.52L1716.75 834.78M1715.85 834.82L1731.63 834.08M1730.73 834.12L1746.51 833.48M1745.61 833.52L1761.39 832.98M1760.49 833.02L1776.27 832.48M1775.38 832.52L1791.16 831.98M1790.26 832.01L1806.04 831.69M1805.14 831.71L1820.92 831.39M1820.02 831.41L1835.80 831.19M1834.90 831.21L1850.69 830.99M1849.79 831.01L1865.57 830.79M1864.67 830.80L1880.45 830.70M1879.55 830.70L1999.51 830.70M1998.61 830.70L2014.39 830.79M2013.49 830.78L2029.27 830.87M2028.37 830.86L2044.15 830.95M2043.25 830.95L2059.04 831.04M2058.14 831.03L2073.92 831.12M2073.02 831.11L2088.80 831.20M2087.90 831.20L2297.15 831.20" stroke="#ff0000"/>
<path d="M212.75 831.50L1017.29 831.50M1016.39 831.53L1032.17 830.47M1031.28 830.59L1047.04 827.41M1046.19 827.70L1061.89 820.10M1061.10 820.53L1076.75 811.07M1075.99 811.55L1091.62 801.05M1090.84 801.49L1106.53 794.01M1105.68 794.26L1121.46 792.24M1120.56 792.26L1136.34 793.54M1135.45 793.42L1151.22 796.18M1150.33 796.03L1166.10 798.47M1165.21 798.40L1180.99 798.40M1180.10 798.32L1195.86 801.08M1194.97 800.95L1210.75 802.55M1209.85 802.47L1225.63 803.53M1224.74 803.47L1240.52 804.53M1239.63 804.40L1255.39 808.10M1254.53 807.84L1270.25 813.66M1269.43 813.30L1285.12 821.20M1284.33 820.77L1299.98 830.23M1299.22 829.76L1314.86 839.74M1314.09 839.27L1329.75 848.73M1328.97 848.28L1344.64 856.92M1343.80 856.61L1359.57 859.79M1358.68 859.67L1374.46 860.83M1373.56 860.81L1389.34 860.59M1388.44 860.62L1404.22 859.88M1403.32 859.93L1419.10 858.97M1418.20 859.03L1433.98 857.97M1433.09 858.03L1448.87 856.97M1447.97 857.05L1463.75 855.45M1462.85 855.56L1478.63 853.44M1477.74 853.56L1493.51 851.44M1492.62 851.57L1508.39 848.93M1507.50 849.07L1523.27 846.43M1522.38 846.56L1538.16 844.44M1537.27 844.57L1553.04 841.93M1552.15 842.06L1567.92 839.94M1567.03 840.04L1582.81 838.56M1581.91 838.63L1597.69 837.57M1596.79 837.62L1612.57 836.78M1611.67 836.82L1627.45 835.98M1626.55 836.02L1642.34 835.18M1641.44 835.22L1657.22 834.38M1656.32 834.42L1672.10 833.58M1671.20 833.62L1686.98 832.98M1686.08 833.02L1701.86 832.48M1700.96 832.51L1716.75 832.24M1715.85 832.26L1731.63 831.99M1730.73 832.01L1746.51 831.83M1745.61 831.84L1761.39 831.66M1760.49 831.67L1776.27 831.49M1775.38 831.50L2297.15 831.50" stroke="#cccc00" stroke-width="1.3" stroke-linecap="round"/>
<path d="M212.75 832.00L1017.29 832.00M1016.39 832.02L1032.17 831.48M1031.27 831.57L1047.04 828.93M1046.18 829.17L1061.90 822.83M1061.09 823.21L1076.76 814.79M1075.99 815.25L1091.62 804.75M1090.85 805.22L1106.52 796.48M1105.72 796.88L1121.42 790.12M1120.57 790.39L1136.33 787.21M1135.44 787.28L1151.22 788.12M1150.33 788.03L1166.10 790.57M1165.21 790.50L1180.99 790.60M1180.10 790.50L1195.86 794.20M1194.98 794.01L1210.74 797.39M1209.86 797.22L1225.63 800.08M1224.75 799.91L1240.51 803.29M1239.64 803.07L1255.38 807.83M1254.53 807.54L1270.25 813.66M1269.43 813.29L1285.11 821.51M1284.33 821.07L1299.98 830.53M1299.22 830.05L1314.86 840.25M1314.10 839.76L1329.74 849.84M1328.98 849.37L1344.63 858.93M1343.84 858.51L1359.53 865.89M1358.69 865.59L1374.44 869.71M1373.56 869.57L1389.34 870.63M1388.44 870.63L1404.22 869.57M1403.33 869.67L1419.10 867.23M1418.21 867.38L1433.98 864.42M1433.09 864.59L1448.86 861.51M1447.98 861.69L1463.74 858.51M1462.86 858.68L1478.63 855.92M1477.74 856.09L1493.51 853.01M1492.63 853.20L1508.38 849.50M1507.51 849.70L1523.27 846.00M1522.39 846.19L1538.15 843.01M1537.27 843.19L1553.03 840.11M1552.15 840.27L1567.92 837.63M1567.03 837.76L1582.80 835.74M1581.91 835.84L1597.69 834.36M1596.79 834.43L1612.57 833.47M1611.67 833.52L1627.45 832.78M1626.55 832.82L1642.34 832.18M1641.44 832.21L1657.22 831.79M1656.32 831.81L1672.10 831.39M1671.20 831.41L1686.98 831.09M1686.08 831.11L1701.86 830.89M1700.96 830.90L1716.75 830.85M1715.85 830.85L1731.63 830.80M1730.73 830.80L1746.51 830.87M1745.61 830.86L1761.39 830.94M1760.49 830.93L1776.27 831.00M1775.38 831.00L1791.16 831.10M1790.26 831.10L1806.04 831.20M1805.14 831.20L1820.92 831.30M1820.02 831.30L1835.80 831.40M1834.90 831.40L1850.69 831.50M1849.79 831.50L1865.57 831.60M1864.67 831.60L1880.45 831.70M1879.55 831.70L1895.33 831.80M1894.43 831.80L1910.21 831.90M1909.31 831.90L1925.10 832.00M1924.20 832.00L2297.15 832.00" stroke="#b03000"/>
<rect x="213.2" y="828.75" width="803.6" height="0.5" fill="#ff0000"/>
<rect x="213.2" y="834.8" width="803.6" height="0.5" fill="#fff" opacity="0.5"/>
<rect x="1939.5" y="828.75" width="357.2" height="0.5" fill="#ff0000"/>
<rect x="1939.5" y="834.8" width="357.2" height="0.5" fill="#fff" opacity="0.5"/>
<path d="M1010.2 832.5L1011.2 832.5M1016.9 831.9L1017.0 830.9M1017.5 824.7L1017.6 823.7M1018.1 817.5L1018.2 816.5M1018.8 810.3L1018.9 809.3M1019.4 803.1L1019.5 802.1M1020.0 795.9L1020.1 794.9M1020.7 788.7L1020.7 787.7M1021.3 781.5L1021.4 780.5M1021.9 774.3L1022.0 773.3M1022.5 767.1L1022.6 766.1M1023.2 759.9L1023.3 758.9M1023.8 752.7L1023.9 751.7M1024.4 745.5L1024.5 744.5M1025.1 738.3L1025.1 737.3M1025.7 731.1L1025.8 730.1M1026.3 723.9L1026.4 722.9M1026.9 716.7L1027.0 715.7M1027.6 709.5L1027.7 708.5M1028.2 702.3L1028.3 701.3M1028.8 695.1L1028.9 694.1M1029.5 687.9L1029.5 686.9M1030.1 680.7L1030.2 679.7M1030.7 673.5L1030.8 672.5M1031.3 666.3L1031.4 665.3M1032.0 659.1L1032.1 658.1M1032.8 651.9L1032.9 650.9M1033.6 644.7L1033.7 643.7M1034.3 637.5L1034.4 636.5M1035.1 630.3L1035.2 629.3M1035.9 623.1L1036.0 622.1M1036.6 615.9L1036.7 614.9M1037.4 608.7L1037.5 607.7M1038.2 601.5L1038.3 600.5M1038.9 594.3L1039.0 593.3M1039.7 587.1L1039.8 586.1M1040.5 579.9L1040.6 578.9M1041.2 572.7L1041.4 571.7M1042.0 565.5L1042.1 564.5M1042.8 558.3L1042.9 557.3M1043.6 551.1L1043.7 550.1M1044.3 543.9L1044.4 542.9M1045.1 536.7L1045.2 535.7M1045.9 529.5L1046.0 528.5M1046.6 522.3L1046.9 521.3M1048.2 515.1L1048.4 514.1M1049.7 507.9L1049.9 506.9M1051.2 500.7L1051.4 499.7M1052.7 493.5L1052.9 492.5M1054.2 486.3L1054.4 485.3M1055.7 479.1L1055.9 478.1M1057.2 471.9L1057.4 470.9M1058.7 464.7L1058.9 463.7M1060.2 457.5L1060.5 456.5M1062.8 452.5L1063.8 453.2M1070.0 457.5L1071.0 458.2M1076.5 462.8L1076.7 463.8M1077.9 470.0L1078.1 471.0M1079.3 477.2L1079.5 478.2M1080.8 484.4L1081.0 485.4M1082.2 491.6L1082.4 492.6M1083.6 498.8L1083.8 499.8M1085.0 506.0L1085.2 507.0M1086.4 513.2L1086.6 514.2M1087.8 520.4L1088.0 521.4M1089.2 527.6L1089.4 528.6M1090.6 534.8L1090.8 535.8M1091.8 542.0L1091.9 543.0M1092.7 549.2L1092.9 550.2M1093.7 556.4L1093.8 557.4M1094.7 563.6L1094.8 564.6M1095.6 570.8L1095.7 571.8M1096.6 578.0L1096.7 579.0M1097.5 585.2L1097.7 586.2M1098.5 592.4L1098.6 593.4M1099.4 599.6L1099.6 600.6M1100.4 606.8L1100.5 607.8M1101.3 614.0L1101.5 615.0M1102.3 621.2L1102.4 622.2M1103.3 628.4L1103.4 629.4M1104.2 635.6L1104.4 636.6M1105.2 642.8L1105.3 643.8M1106.1 650.0L1106.3 651.0M1107.1 657.2L1107.3 658.2M1108.1 664.4L1108.3 665.4M1109.1 671.6L1109.3 672.6M1110.1 678.8L1110.3 679.8M1111.1 686.0L1111.3 687.0M1112.1 693.2L1112.3 694.2M1113.1 700.4L1113.3 701.4M1114.1 707.6L1114.3 708.6M1115.1 714.8L1115.3 715.8M1116.1 722.0L1116.3 723.0M1117.1 729.2L1117.3 730.2M1118.2 736.4L1118.3 737.4M1119.2 743.6L1119.3 744.6M1120.2 750.8L1120.3 751.8M1121.3 758.0L1121.6 759.0M1123.3 765.2L1123.6 766.2M1125.4 772.4L1125.7 773.4M1127.4 779.6L1127.7 780.6M1129.5 786.8L1129.7 787.8M1131.5 794.0L1131.8 795.0M1133.5 801.2L1133.8 802.2M1135.6 808.4L1135.8 809.4M1141.9 808.3L1142.9 808.1M1149.1 806.8L1150.1 806.5M1152.5 800.8L1152.8 799.8M1154.7 793.6L1155.0 792.6M1156.8 786.4L1157.2 785.4M1159.0 779.2L1159.3 778.2M1161.2 772.0L1161.5 771.0M1163.4 764.8L1163.7 763.8M1165.6 757.6L1165.7 757.5L1166.5 757.5M1172.7 757.5L1173.7 757.5M1179.9 757.5L1180.5 757.5L1180.7 757.1M1183.9 750.9L1184.4 749.9M1187.5 743.7L1188.0 742.7M1191.1 736.5L1191.6 735.5M1194.7 729.3L1195.3 728.3M1201.3 722.5L1202.3 721.5M1208.5 715.7L1209.5 714.8M1213.2 719.4L1213.7 720.4M1217.0 726.6L1217.5 727.6M1220.8 733.8L1221.4 734.8M1224.6 741.0L1225.2 742.0M1226.4 748.2L1226.7 749.2M1227.9 755.4L1228.1 756.4M1229.4 762.6L1229.6 763.6M1230.9 769.8L1231.1 770.8M1232.3 777.0L1232.5 778.0M1233.8 784.2L1234.0 785.2M1235.3 791.4L1235.5 792.4M1236.7 798.6L1236.9 799.6M1238.2 805.8L1238.4 806.8M1239.7 813.0L1239.9 814.0M1240.8 820.2L1240.9 821.2M1241.8 827.4L1241.9 828.4M1242.8 834.6L1242.9 835.6M1243.8 841.8L1243.9 842.8M1244.8 849.0L1244.9 850.0M1245.8 856.2L1245.9 857.2M1246.8 863.4L1246.9 864.4M1247.8 870.6L1247.9 871.6M1248.8 877.8L1248.9 878.8M1249.8 885.0L1249.9 886.0M1250.8 892.2L1250.9 893.2M1251.8 899.4L1251.9 900.4M1252.8 906.6L1252.9 907.6M1253.8 913.8L1253.9 914.8M1254.8 921.0L1254.9 922.0M1255.9 928.2L1256.0 929.2M1257.0 935.4L1257.1 936.4M1258.1 942.6L1258.2 943.6M1259.2 949.8L1259.3 950.8M1260.3 957.0L1260.4 958.0M1261.4 964.2L1261.5 965.2M1262.4 971.4L1262.6 972.4M1263.5 978.6L1263.7 979.6M1264.6 985.8L1264.8 986.8M1265.7 993.0L1265.9 994.0M1266.8 1000.2L1267.0 1001.2M1267.9 1007.4L1268.1 1008.4M1269.0 1014.6L1269.2 1015.6M1270.3 1021.8L1270.5 1022.8M1272.0 1029.0L1272.2 1030.0M1273.7 1036.2L1274.0 1037.2M1275.4 1043.4L1275.7 1044.4M1277.2 1050.6L1277.4 1051.6M1278.9 1057.8L1279.1 1058.8M1280.6 1065.0L1280.9 1066.0M1282.4 1072.2L1282.6 1073.2M1284.1 1079.4L1284.3 1080.4M1289.3 1086.3L1290.3 1087.3M1296.5 1093.1L1297.5 1094.0M1301.9 1091.9L1302.4 1090.9M1305.8 1084.7L1306.4 1083.7M1309.8 1077.5L1310.3 1076.5M1313.8 1070.3L1314.3 1069.3M1316.1 1063.1L1316.3 1062.1M1318.0 1055.9L1318.3 1054.9M1319.9 1048.7L1320.2 1047.7M1321.9 1041.5L1322.1 1040.5M1323.8 1034.3L1324.1 1033.3M1325.7 1027.1L1326.0 1026.1M1327.6 1019.9L1327.9 1018.9M1329.6 1012.7L1329.9 1011.7M1331.6 1005.5L1331.9 1004.5M1333.6 998.3L1333.9 997.3M1335.6 991.1L1335.9 990.1M1337.6 983.9L1337.9 982.9M1339.6 976.7L1339.9 975.7M1341.6 969.5L1341.9 968.5M1343.6 962.3L1343.9 961.3M1345.9 955.1L1346.2 954.1M1348.3 947.9L1348.7 946.9M1350.8 940.7L1351.1 939.7M1353.2 933.5L1353.5 932.5M1355.6 926.3L1356.0 925.3M1358.1 919.1L1358.4 918.1M1362.1 911.9L1362.8 910.9M1367.3 904.7L1368.0 903.7M1372.5 897.5L1373.2 896.5M1379.1 893.9L1380.1 893.6M1386.3 891.7L1387.3 891.4M1393.5 893.3L1394.5 893.8M1400.7 897.0L1401.7 897.5M1407.9 901.7L1408.9 902.4M1415.1 907.0L1416.1 907.7M1422.3 911.3L1423.3 911.8M1429.5 914.8L1430.5 915.3M1436.7 916.2L1437.7 916.1M1443.9 915.2L1444.9 915.0M1451.1 912.1L1452.1 911.2M1458.3 905.5L1459.3 904.6M1464.9 898.8L1465.7 897.8M1470.3 891.6L1471.0 890.6M1475.7 884.4L1476.4 883.4M1481.4 877.2L1482.2 876.2M1487.3 870.0L1488.2 869.0M1493.4 862.8L1494.4 861.9M1500.6 856.0L1501.6 855.0M1507.8 849.2L1507.9 849.0L1508.8 848.6M1515.0 845.6L1516.0 845.2M1522.2 842.2L1522.8 841.9L1523.2 841.9M1529.4 841.9L1530.4 841.9M1536.6 841.9L1537.6 841.9M1543.8 843.2L1544.8 843.4M1551.0 844.8L1552.0 845.0M1558.2 847.0L1559.2 847.4M1565.4 849.5L1566.4 849.8M1572.6 851.5L1573.6 851.8M1579.8 853.4L1580.8 853.7M1587.0 854.6L1588.0 854.7M1594.2 855.4L1595.2 855.5M1601.4 855.1L1602.4 854.9M1608.6 854.0L1609.6 853.9M1615.8 852.1L1616.8 851.7M1623.0 849.3L1624.0 848.9M1630.2 846.2L1631.2 845.7M1637.4 842.8L1638.4 842.3M1644.6 839.7L1645.6 839.3M1651.8 837.1L1652.8 836.8M1659.0 835.0L1660.0 834.8M1666.2 833.8L1667.2 833.6M1673.4 832.6L1674.4 832.6M1680.6 832.0L1681.6 831.9M1687.8 831.5L1688.8 831.5M1695.0 831.6L1696.0 831.6M1702.2 831.6L1703.2 831.7M1709.4 832.1L1710.4 832.1M1716.6 832.5L1717.6 832.6M1723.8 833.2L1724.8 833.2M1731.0 833.8L1731.2 833.8L1732.0 833.8M1738.2 834.0L1739.2 834.0M1745.4 834.2L1746.1 834.2L1746.4 834.2M1752.6 834.1L1753.6 834.1M1759.8 834.0L1760.8 834.0M1767.0 833.7L1768.0 833.7M1774.2 833.4L1775.2 833.3M1781.4 833.0L1782.4 832.9M1788.6 832.5L1789.6 832.5M1795.8 832.1L1796.8 832.1M1803.0 831.7L1804.0 831.7M1810.2 831.4L1811.2 831.3M1817.4 831.0L1818.4 830.9M1824.6 830.7L1825.6 830.7M1831.8 830.5L1832.8 830.5M1839.0 830.4L1840.0 830.4M1846.2 830.3L1847.2 830.3M1853.4 830.4L1854.4 830.4M1860.6 830.5L1861.6 830.5M1867.8 830.7L1868.8 830.8M1875.0 831.1L1876.0 831.1M1882.2 831.4L1883.2 831.4M1889.4 831.7L1890.4 831.8M1896.6 832.1L1897.6 832.1M1903.8 832.3L1904.8 832.3M1911.0 832.5L1912.0 832.5M1918.2 832.5L1919.2 832.5M1925.4 832.5L1926.4 832.5" stroke="#4cc88a" opacity="0.8"/>
<path d="M217.1 832.5L217.6 832.5M224.3 832.5L224.8 832.5M231.5 832.5L232.0 832.5M238.7 832.5L239.2 832.5M245.9 832.5L246.4 832.5M253.1 832.5L253.6 832.5M260.3 832.5L260.8 832.5M267.5 832.5L268.0 832.5M274.7 832.5L275.2 832.5M281.9 832.5L282.4 832.5M289.1 832.5L289.6 832.5M296.3 832.5L296.8 832.5M303.5 832.5L304.0 832.5M310.7 832.5L311.2 832.5M317.9 832.5L318.4 832.5M325.1 832.5L325.6 832.5M332.3 832.5L332.8 832.5M339.5 832.5L340.0 832.5M346.7 832.5L347.1 832.5L347.2 832.5M353.9 832.5L354.4 832.5M361.1 832.5L361.6 832.5M368.3 832.5L368.8 832.5M375.5 832.5L376.0 832.5M382.7 832.5L383.2 832.5M389.9 832.5L390.4 832.5M397.1 832.5L397.6 832.5M404.3 832.5L404.8 832.5M411.5 832.5L412.0 832.5M418.7 832.5L419.2 832.5M425.9 832.5L426.4 832.5M433.1 832.5L433.6 832.5M440.3 832.5L440.8 832.5M447.5 832.5L448.0 832.5M454.7 832.5L455.2 832.5M461.9 832.5L462.4 832.5M469.1 832.5L469.6 832.5M476.3 832.5L476.8 832.5M483.5 832.5L484.0 832.5M490.7 832.5L491.2 832.5M497.9 832.5L498.4 832.5M505.1 832.5L505.6 832.5M512.3 832.5L512.8 832.5M519.5 832.5L520.0 832.5M526.7 832.5L527.2 832.5M533.9 832.5L534.4 832.5M541.1 832.5L541.6 832.5M548.3 832.5L548.8 832.5M555.5 832.5L556.0 832.5M562.7 832.5L563.2 832.5M569.9 832.5L570.4 832.5L570.4 832.5M577.1 832.5L577.6 832.5M584.3 832.5L584.8 832.5M591.5 832.5L592.0 832.5M598.7 832.5L599.2 832.5M605.9 832.5L606.4 832.5M613.1 832.5L613.6 832.5M620.3 832.5L620.8 832.5M627.5 832.5L628.0 832.5M634.7 832.5L635.2 832.5M641.9 832.5L642.4 832.5M649.1 832.5L649.6 832.5M656.3 832.5L656.8 832.5M663.5 832.5L664.0 832.5M670.7 832.5L671.2 832.5M677.9 832.5L678.4 832.5M685.1 832.5L685.6 832.5M692.3 832.5L692.8 832.5M699.5 832.5L700.0 832.5M706.7 832.5L707.2 832.5M713.9 832.5L714.4 832.5M721.1 832.5L721.6 832.5M728.3 832.5L728.8 832.5M735.5 832.5L736.0 832.5M742.7 832.5L743.2 832.5M749.9 832.5L750.4 832.5M757.1 832.5L757.6 832.5M764.3 832.5L764.8 832.5M771.5 832.5L772.0 832.5M778.7 832.5L778.7 832.5L779.2 832.5M785.9 832.5L786.4 832.5M793.1 832.5L793.6 832.5M800.3 832.5L800.8 832.5M807.5 832.5L808.0 832.5M814.7 832.5L815.2 832.5M821.9 832.5L822.4 832.5M829.1 832.5L829.6 832.5M836.3 832.5L836.8 832.5M843.5 832.5L844.0 832.5M850.7 832.5L851.2 832.5M857.9 832.5L858.4 832.5M865.1 832.5L865.6 832.5M872.3 832.5L872.8 832.5M879.5 832.5L880.0 832.5M886.7 832.5L887.2 832.5M893.9 832.5L894.4 832.5M901.1 832.5L901.6 832.5M908.3 832.5L908.8 832.5M915.5 832.5L916.0 832.5M922.7 832.5L923.2 832.5M929.9 832.5L930.4 832.5M937.1 832.5L937.6 832.5M944.3 832.5L944.8 832.5M951.5 832.5L952.0 832.5M958.7 832.5L959.2 832.5M965.9 832.5L966.4 832.5M973.1 832.5L973.6 832.5M980.3 832.5L980.8 832.5M987.5 832.5L988.0 832.5M994.7 832.5L995.2 832.5M1001.9 832.5L1002.0 832.5L1002.4 832.5M219.9 832.5L220.4 832.5M227.1 832.5L227.6 832.5M234.3 832.5L234.8 832.5M241.5 832.5L242.0 832.5M248.7 832.5L249.2 832.5M255.9 832.5L256.4 832.5M263.1 832.5L263.6 832.5M270.3 832.5L270.8 832.5M277.5 832.5L278.0 832.5M284.7 832.5L285.2 832.5M291.9 832.5L292.4 832.5M299.1 832.5L299.6 832.5M306.3 832.5L306.8 832.5M313.5 832.5L314.0 832.5M320.7 832.5L321.2 832.5M327.9 832.5L328.4 832.5M335.1 832.5L335.6 832.5M342.3 832.5L342.8 832.5M349.5 832.5L350.0 832.5M356.7 832.5L357.2 832.5M363.9 832.5L364.4 832.5M371.1 832.5L371.6 832.5M378.3 832.5L378.8 832.5M385.5 832.5L386.0 832.5M392.7 832.5L393.2 832.5M399.9 832.5L400.4 832.5M407.1 832.5L407.6 832.5M414.3 832.5L414.8 832.5M421.5 832.5L421.5 832.5L422.0 832.5M428.7 832.5L429.2 832.5M435.9 832.5L436.4 832.5M443.1 832.5L443.6 832.5M450.3 832.5L450.8 832.5M457.5 832.5L458.0 832.5M464.7 832.5L465.2 832.5M471.9 832.5L472.4 832.5M479.1 832.5L479.6 832.5M486.3 832.5L486.8 832.5M493.5 832.5L494.0 832.5M500.7 832.5L501.2 832.5M507.9 832.5L508.4 832.5M515.1 832.5L515.6 832.5M522.3 832.5L522.8 832.5M529.5 832.5L530.0 832.5M536.7 832.5L537.2 832.5M543.9 832.5L544.4 832.5M551.1 832.5L551.6 832.5M558.3 832.5L558.8 832.5M565.5 832.5L566.0 832.5M572.7 832.5L573.2 832.5M579.9 832.5L580.4 832.5M587.1 832.5L587.6 832.5M594.3 832.5L594.8 832.5M601.5 832.5L602.0 832.5M608.7 832.5L609.2 832.5M615.9 832.5L616.4 832.5M623.1 832.5L623.6 832.5M630.3 832.5L630.8 832.5M637.5 832.5L638.0 832.5M644.7 832.5L644.8 832.5L645.2 832.5M651.9 832.5L652.4 832.5M659.1 832.5L659.6 832.5M666.3 832.5L666.8 832.5M673.5 832.5L674.0 832.5M680.7 832.5L681.2 832.5M687.9 832.5L688.4 832.5M695.1 832.5L695.6 832.5M702.3 832.5L702.8 832.5M709.5 832.5L710.0 832.5M716.7 832.5L717.2 832.5M723.9 832.5L724.4 832.5M731.1 832.5L731.6 832.5M738.3 832.5L738.8 832.5M745.5 832.5L746.0 832.5M752.7 832.5L753.2 832.5M759.9 832.5L760.4 832.5M767.1 832.5L767.6 832.5M774.3 832.5L774.8 832.5M781.5 832.5L782.0 832.5M788.7 832.5L789.2 832.5M795.9 832.5L796.4 832.5M803.1 832.5L803.6 832.5M810.3 832.5L810.8 832.5M817.5 832.5L818.0 832.5M824.7 832.5L825.2 832.5M831.9 832.5L832.4 832.5M839.1 832.5L839.6 832.5M846.3 832.5L846.8 832.5M853.5 832.5L854.0 832.5M860.7 832.5L861.2 832.5M867.9 832.5L868.0 832.5L868.4 832.5M875.1 832.5L875.6 832.5M882.3 832.5L882.8 832.5M889.5 832.5L890.0 832.5M896.7 832.5L897.2 832.5M903.9 832.5L904.4 832.5M911.1 832.5L911.6 832.5M918.3 832.5L918.8 832.5M925.5 832.5L926.0 832.5M932.7 832.5L933.2 832.5M939.9 832.5L940.4 832.5M947.1 832.5L947.6 832.5M954.3 832.5L954.8 832.5M961.5 832.5L962.0 832.5M968.7 832.5L969.2 832.5M975.9 832.5L976.4 832.5M983.1 832.5L983.6 832.5M990.3 832.5L990.8 832.5M997.5 832.5L998.0 832.5M1004.7 832.5L1005.2 832.5M1938.6 832.5L1939.1 832.5M1945.8 832.5L1946.3 832.5M1953.0 832.5L1953.5 832.5M1960.2 832.5L1960.7 832.5M1967.4 832.5L1967.9 832.5M1974.6 832.5L1975.1 832.5M1981.8 832.5L1982.3 832.5M1989.0 832.5L1989.5 832.5M1996.2 832.5L1996.7 832.5M2003.4 832.5L2003.9 832.5M2010.6 832.5L2011.1 832.5M2017.8 832.5L2018.3 832.5M2025.0 832.5L2025.5 832.5M2032.2 832.5L2032.7 832.5M2039.4 832.5L2039.9 832.5M2046.6 832.5L2047.1 832.5M2053.8 832.5L2054.3 832.5M2061.0 832.5L2061.5 832.5M2068.2 832.5L2068.7 832.5M2075.4 832.5L2075.9 832.5M2082.6 832.5L2083.1 832.5M2089.8 832.5L2090.3 832.5M2097.0 832.5L2097.5 832.5M2104.2 832.5L2104.7 832.5M2111.4 832.5L2111.9 832.5M2118.6 832.5L2119.1 832.5M2125.8 832.5L2126.3 832.5M2133.0 832.5L2133.5 832.5M2140.2 832.5L2140.7 832.5M2147.4 832.5L2147.9 832.5L2147.9 832.5M2154.6 832.5L2155.1 832.5M2161.8 832.5L2162.3 832.5M2169.0 832.5L2169.5 832.5M2176.2 832.5L2176.7 832.5M2183.4 832.5L2183.9 832.5M2190.6 832.5L2191.1 832.5M2197.8 832.5L2198.3 832.5M2205.0 832.5L2205.5 832.5M2212.2 832.5L2212.7 832.5M2219.4 832.5L2219.9 832.5M2226.6 832.5L2227.1 832.5M2233.8 832.5L2234.3 832.5M2241.0 832.5L2241.5 832.5M2248.2 832.5L2248.7 832.5M2255.4 832.5L2255.9 832.5M2262.6 832.5L2263.1 832.5M2269.8 832.5L2270.3 832.5M2277.0 832.5L2277.5 832.5M2284.2 832.5L2284.7 832.5M2291.4 832.5L2291.9 832.5M1941.4 832.5L1941.9 832.5M1948.6 832.5L1949.1 832.5M1955.8 832.5L1956.3 832.5M1963.0 832.5L1963.5 832.5M1970.2 832.5L1970.7 832.5M1977.4 832.5L1977.9 832.5M1984.6 832.5L1985.1 832.5M1991.8 832.5L1992.3 832.5M1999.0 832.5L1999.1 832.5L1999.5 832.5M2006.2 832.5L2006.7 832.5M2013.4 832.5L2013.9 832.5M2020.6 832.5L2021.1 832.5M2027.8 832.5L2028.3 832.5M2035.0 832.5L2035.5 832.5M2042.2 832.5L2042.7 832.5M2049.4 832.5L2049.9 832.5M2056.6 832.5L2057.1 832.5M2063.8 832.5L2064.3 832.5M2071.0 832.5L2071.5 832.5M2078.2 832.5L2078.7 832.5M2085.4 832.5L2085.9 832.5M2092.6 832.5L2093.1 832.5M2099.8 832.5L2100.3 832.5M2107.0 832.5L2107.5 832.5M2114.2 832.5L2114.7 832.5M2121.4 832.5L2121.9 832.5M2128.6 832.5L2129.1 832.5M2135.8 832.5L2136.3 832.5M2143.0 832.5L2143.5 832.5M2150.2 832.5L2150.7 832.5M2157.4 832.5L2157.9 832.5M2164.6 832.5L2165.1 832.5M2171.8 832.5L2172.3 832.5M2179.0 832.5L2179.5 832.5M2186.2 832.5L2186.7 832.5M2193.4 832.5L2193.9 832.5M2200.6 832.5L2201.1 832.5M2207.8 832.5L2208.3 832.5M2215.0 832.5L2215.5 832.5M2222.2 832.5L2222.3 832.5L2222.7 832.5M2229.4 832.5L2229.9 832.5M2236.6 832.5L2237.1 832.5M2243.8 832.5L2244.3 832.5M2251.0 832.5L2251.5 832.5M2258.2 832.5L2258.7 832.5M2265.4 832.5L2265.9 832.5M2272.6 832.5L2273.1 832.5M2279.8 832.5L2280.3 832.5M2287.0 832.5L2287.5 832.5M2294.2 832.5L2294.7 832.5" stroke="#ff1000" opacity="0.4"/>
<path d="M213.2 832.5L217.1 832.5M220.4 832.5L224.3 832.5M227.6 832.5L228.1 832.5L231.5 832.5M234.8 832.5L238.7 832.5M242.0 832.5L243.0 832.5L245.9 832.5M249.2 832.5L253.1 832.5M256.4 832.5L257.8 832.5L260.3 832.5M263.6 832.5L267.5 832.5M270.8 832.5L272.7 832.5L274.7 832.5M278.0 832.5L281.9 832.5M285.2 832.5L287.6 832.5L289.1 832.5M292.4 832.5L296.3 832.5M299.6 832.5L302.5 832.5L303.5 832.5M306.8 832.5L310.7 832.5M314.0 832.5L317.4 832.5L317.9 832.5M321.2 832.5L325.1 832.5M328.4 832.5L332.3 832.5L332.3 832.5M335.6 832.5L339.5 832.5M342.8 832.5L346.7 832.5M350.0 832.5L353.9 832.5M357.2 832.5L361.1 832.5M364.4 832.5L368.3 832.5M371.6 832.5L375.5 832.5M378.8 832.5L382.7 832.5M386.0 832.5L389.9 832.5M393.2 832.5L397.1 832.5M400.4 832.5L404.3 832.5M407.6 832.5L411.5 832.5M414.8 832.5L418.7 832.5M422.0 832.5L425.9 832.5M429.2 832.5L433.1 832.5M436.4 832.5L436.4 832.5L440.3 832.5M443.6 832.5L447.5 832.5M450.8 832.5L451.3 832.5L454.7 832.5M458.0 832.5L461.9 832.5M465.2 832.5L466.2 832.5L469.1 832.5M472.4 832.5L476.3 832.5M479.6 832.5L481.1 832.5L483.5 832.5M486.8 832.5L490.7 832.5M494.0 832.5L496.0 832.5L497.9 832.5M501.2 832.5L505.1 832.5M508.4 832.5L510.8 832.5L512.3 832.5M515.6 832.5L519.5 832.5M522.8 832.5L525.7 832.5L526.7 832.5M530.0 832.5L533.9 832.5M537.2 832.5L540.6 832.5L541.1 832.5M544.4 832.5L548.3 832.5M551.6 832.5L555.5 832.5L555.5 832.5M558.8 832.5L562.7 832.5M566.0 832.5L569.9 832.5M573.2 832.5L577.1 832.5M580.4 832.5L584.3 832.5M587.6 832.5L591.5 832.5M594.8 832.5L598.7 832.5M602.0 832.5L605.9 832.5M609.2 832.5L613.1 832.5M616.4 832.5L620.3 832.5M623.6 832.5L627.5 832.5M630.8 832.5L634.7 832.5M638.0 832.5L641.9 832.5M645.2 832.5L649.1 832.5M652.4 832.5L656.3 832.5M659.6 832.5L659.7 832.5L663.5 832.5M666.8 832.5L670.7 832.5M674.0 832.5L674.5 832.5L677.9 832.5M681.2 832.5L685.1 832.5M688.4 832.5L689.4 832.5L692.3 832.5M695.6 832.5L699.5 832.5M702.8 832.5L704.3 832.5L706.7 832.5M710.0 832.5L713.9 832.5M717.2 832.5L719.2 832.5L721.1 832.5M724.4 832.5L728.3 832.5M731.6 832.5L734.1 832.5L735.5 832.5M738.8 832.5L742.7 832.5M746.0 832.5L749.0 832.5L749.9 832.5M753.2 832.5L757.1 832.5M760.4 832.5L763.8 832.5L764.3 832.5M767.6 832.5L771.5 832.5M774.8 832.5L778.7 832.5M782.0 832.5L785.9 832.5M789.2 832.5L793.1 832.5M796.4 832.5L800.3 832.5M803.6 832.5L807.5 832.5M810.8 832.5L814.7 832.5M818.0 832.5L821.9 832.5M825.2 832.5L829.1 832.5M832.4 832.5L836.3 832.5M839.6 832.5L843.5 832.5M846.8 832.5L850.7 832.5M854.0 832.5L857.9 832.5M861.2 832.5L865.1 832.5M868.4 832.5L872.3 832.5M875.6 832.5L879.5 832.5M882.8 832.5L882.9 832.5L886.7 832.5M890.0 832.5L893.9 832.5M897.2 832.5L897.8 832.5L901.1 832.5M904.4 832.5L908.3 832.5M911.6 832.5L912.7 832.5L915.5 832.5M918.8 832.5L922.7 832.5M926.0 832.5L927.5 832.5L929.9 832.5M933.2 832.5L937.1 832.5M940.4 832.5L942.4 832.5L944.3 832.5M947.6 832.5L951.5 832.5M954.8 832.5L957.3 832.5L958.7 832.5M962.0 832.5L965.9 832.5M969.2 832.5L972.2 832.5L973.1 832.5M976.4 832.5L980.3 832.5M983.6 832.5L987.1 832.5L987.5 832.5M990.8 832.5L994.7 832.5M998.0 832.5L1001.9 832.5M1005.2 832.5L1009.1 832.5M1012.4 832.5L1016.3 832.5M1017.1 829.7L1017.4 825.8M1017.7 822.5L1018.0 818.6M1018.3 815.3L1018.7 811.4M1019.0 808.1L1019.3 804.2M1019.6 800.9L1019.9 797.0M1020.2 793.7L1020.6 789.8M1020.8 786.5L1021.2 782.6M1021.5 779.3L1021.8 775.4M1022.1 772.1L1022.4 768.2M1022.7 764.9L1023.1 761.0M1023.4 757.7L1023.7 753.8M1024.0 750.5L1024.3 746.6M1024.6 743.3L1025.0 739.4M1025.2 736.1L1025.6 732.2M1025.9 728.9L1026.2 725.0M1026.5 721.7L1026.8 717.8M1027.1 714.5L1027.5 710.6M1027.8 707.3L1028.1 703.4M1028.4 700.1L1028.7 696.2M1029.0 692.9L1029.4 689.0M1029.6 685.7L1030.0 681.8M1030.3 678.5L1030.6 674.6M1030.9 671.3L1031.2 667.4M1031.5 664.1L1031.7 662.0L1031.9 660.2M1032.3 656.9L1032.7 653.0M1033.0 649.7L1033.4 645.8M1033.8 642.5L1034.2 638.6M1034.6 635.3L1035.0 631.4M1035.3 628.1L1035.7 624.2M1036.1 620.9L1036.5 617.0M1036.9 613.7L1037.3 609.8M1037.6 606.5L1038.1 602.6M1038.4 599.3L1038.8 595.4M1039.2 592.1L1039.6 588.2M1039.9 584.9L1040.4 581.0M1040.7 577.7L1041.1 573.8M1041.5 570.5L1041.9 566.6M1042.2 563.3L1042.7 559.4M1043.0 556.1L1043.4 552.2M1043.8 548.9L1044.2 545.0M1044.5 541.7L1045.0 537.8M1045.3 534.5L1045.7 530.6M1046.1 527.3L1046.5 523.4M1047.1 520.1L1047.9 516.2M1048.6 512.9L1049.4 509.0M1050.1 505.7L1050.9 501.8M1051.6 498.5L1052.4 494.6M1053.1 491.3L1054.0 487.4M1054.7 484.1L1055.5 480.2M1056.2 476.9L1057.0 473.0M1057.7 469.7L1058.5 465.8M1059.2 462.5L1060.0 458.6M1060.7 455.3L1061.5 451.6L1061.6 451.7M1064.9 454.0L1068.8 456.7M1072.1 459.1L1076.0 461.8M1076.9 465.0L1077.7 468.9M1078.4 472.2L1079.1 476.1M1079.8 479.4L1080.5 483.3M1081.2 486.6L1081.9 490.5M1082.6 493.8L1083.4 497.7M1084.0 501.0L1084.8 504.9M1085.4 508.2L1086.2 512.1M1086.8 515.4L1087.6 519.3M1088.2 522.6L1089.0 526.5M1089.6 529.8L1090.4 533.7M1091.0 537.0L1091.2 538.0L1091.6 540.9M1092.1 544.2L1092.6 548.1M1093.0 551.4L1093.5 555.3M1094.0 558.6L1094.5 562.5M1094.9 565.8L1095.5 569.7M1095.9 573.0L1096.4 576.9M1096.9 580.2L1097.4 584.1M1097.8 587.4L1098.3 591.3M1098.8 594.6L1099.3 598.5M1099.7 601.8L1100.2 605.7M1100.7 609.0L1101.2 612.9M1101.6 616.2L1102.2 620.1M1102.6 623.4L1103.1 627.3M1103.5 630.6L1104.1 634.5M1104.5 637.8L1105.0 641.7M1105.5 645.0L1106.0 648.9M1106.4 652.2L1107.0 656.1M1107.4 659.4L1108.0 663.3M1108.4 666.6L1109.0 670.5M1109.4 673.8L1110.0 677.7M1110.4 681.0L1111.0 684.9M1111.4 688.2L1112.0 692.1M1112.4 695.4L1113.0 699.3M1113.4 702.6L1114.0 706.5M1114.4 709.8L1115.0 713.7M1115.4 717.0L1116.0 720.9M1116.4 724.2L1117.0 728.1M1117.4 731.4L1118.0 735.3M1118.4 738.6L1119.0 742.5M1119.5 745.8L1120.0 749.7M1120.5 753.0L1121.0 756.9M1121.9 760.2L1123.0 764.1M1123.9 767.4L1125.1 771.3M1126.0 774.6L1127.1 778.5M1128.0 781.8L1129.1 785.7M1130.1 789.0L1131.2 792.9M1132.1 796.2L1133.2 800.1M1134.1 803.4L1135.2 807.3M1136.9 809.4L1140.8 808.6M1144.1 807.8L1148.0 807.0M1150.9 805.9L1152.1 802.0M1153.1 798.7L1154.3 794.8M1155.3 791.5L1156.5 787.6M1157.5 784.3L1158.7 780.4M1159.7 777.1L1160.9 773.2M1161.9 769.9L1163.1 766.0M1164.1 762.7L1165.3 758.8M1167.7 757.5L1171.6 757.5M1174.9 757.5L1178.8 757.5M1181.3 756.0L1183.3 752.1M1184.9 748.8L1186.9 744.9M1188.6 741.6L1190.5 737.7M1192.2 734.4L1194.2 730.5M1196.2 727.2L1200.1 723.6M1203.4 720.5L1207.3 716.8M1210.5 714.3L1212.6 718.2M1214.3 721.5L1216.4 725.4M1218.1 728.7L1220.2 732.6M1222.0 735.9L1224.0 739.8M1225.4 743.1L1226.2 747.0M1226.9 750.3L1227.7 754.2M1228.4 757.5L1229.1 761.4M1229.8 764.7L1230.6 768.6M1231.3 771.9L1232.1 775.8M1232.8 779.1L1233.6 783.0M1234.2 786.3L1235.0 790.2M1235.7 793.5L1236.5 797.4M1237.2 800.7L1238.0 804.6M1238.6 807.9L1239.4 811.8M1240.1 815.1L1240.6 819.0M1241.1 822.3L1241.6 826.2M1242.1 829.5L1242.6 833.4M1243.1 836.7L1243.6 840.6M1244.1 843.9L1244.6 847.8M1245.1 851.1L1245.6 855.0M1246.1 858.3L1246.6 862.2M1247.1 865.5L1247.6 869.4M1248.1 872.7L1248.6 876.6M1249.1 879.9L1249.6 883.8M1250.1 887.1L1250.6 891.0M1251.1 894.3L1251.6 898.2M1252.1 901.5L1252.6 905.4M1253.1 908.7L1253.6 912.6M1254.1 915.9L1254.6 919.8M1255.1 923.1L1255.7 927.0M1256.2 930.3L1256.8 934.2M1257.3 937.5L1257.9 941.4M1258.4 944.7L1259.0 948.6M1259.5 951.9L1260.1 955.8M1260.6 959.1L1261.2 963.0M1261.7 966.3L1262.3 970.2M1262.8 973.5L1263.4 977.4M1263.9 980.7L1264.5 984.6M1265.0 987.9L1265.6 991.8M1266.1 995.1L1266.6 999.0M1267.1 1002.3L1267.7 1006.2M1268.2 1009.5L1268.8 1013.4M1269.3 1016.7L1269.8 1020.0L1270.0 1020.6M1270.8 1023.9L1271.7 1027.8M1272.5 1031.1L1273.4 1035.0M1274.2 1038.3L1275.2 1042.2M1276.0 1045.5L1276.9 1049.4M1277.7 1052.7L1278.6 1056.6M1279.4 1059.9L1280.4 1063.8M1281.1 1067.1L1282.1 1071.0M1282.9 1074.3L1283.8 1078.2M1284.6 1081.5L1284.7 1082.0L1288.2 1085.2M1291.5 1088.3L1295.4 1092.0M1298.7 1095.1L1299.6 1096.0L1301.2 1093.0M1303.0 1089.7L1305.2 1085.8M1307.0 1082.5L1309.2 1078.6M1311.0 1075.3L1313.1 1071.4M1314.7 1068.1L1315.8 1064.2M1316.6 1060.9L1317.7 1057.0M1318.6 1053.7L1319.6 1049.8M1320.5 1046.5L1321.5 1042.6M1322.4 1039.3L1323.5 1035.4M1324.4 1032.1L1325.4 1028.2M1326.3 1024.9L1327.3 1021.0M1328.2 1017.7L1329.3 1013.8M1330.2 1010.5L1331.3 1006.6M1332.2 1003.3L1333.3 999.4M1334.2 996.1L1335.3 992.2M1336.2 988.9L1337.3 985.0M1338.2 981.7L1339.3 977.8M1340.2 974.5L1341.3 970.6M1342.2 967.3L1343.3 963.4M1344.2 960.1L1344.2 960.0L1345.5 956.2M1346.6 952.9L1347.9 949.0M1349.1 945.7L1350.4 941.8M1351.5 938.5L1352.8 934.6M1353.9 931.3L1355.3 927.4M1356.4 924.1L1357.7 920.2M1358.8 916.9L1359.1 916.0L1361.3 913.0M1363.6 909.7L1366.5 905.8M1368.8 902.5L1371.7 898.6M1374.1 895.4L1378.0 894.2M1381.3 893.2L1385.2 892.0M1388.5 891.0L1388.9 890.9L1392.4 892.7M1395.7 894.4L1399.6 896.4M1402.9 898.1L1403.8 898.6L1406.8 900.8M1410.1 903.2L1414.0 906.1M1417.3 908.6L1418.7 909.6L1421.2 910.8M1424.5 912.4L1428.4 914.2M1431.7 915.8L1433.5 916.7L1435.6 916.4M1438.9 915.9L1442.8 915.3M1446.1 914.8L1448.4 914.5L1450.0 913.1M1453.3 910.1L1457.2 906.6M1460.5 903.6L1463.3 901.0L1464.1 899.9M1466.5 896.6L1469.4 892.7M1471.9 889.4L1474.8 885.5M1477.3 882.2L1478.2 881.0L1480.4 878.3M1483.1 875.0L1486.4 871.1M1489.1 867.8L1492.4 863.9M1495.5 860.8L1499.4 857.1M1502.7 853.9L1506.6 850.3M1509.9 848.1L1513.8 846.2M1517.1 844.6L1521.0 842.8M1524.3 841.9L1528.2 841.9M1531.5 841.9L1535.4 841.9M1538.7 842.1L1542.6 843.0M1545.9 843.7L1549.8 844.5M1553.1 845.3L1557.0 846.6M1560.3 847.7L1564.2 849.1M1567.5 850.2L1571.4 851.2M1574.7 852.1L1578.6 853.1M1581.9 854.0L1582.4 854.1L1585.8 854.5M1589.1 854.8L1593.0 855.2M1596.3 855.6L1597.2 855.7L1600.2 855.3M1603.5 854.8L1607.4 854.2M1610.7 853.7L1612.1 853.5L1614.6 852.5M1617.9 851.2L1621.8 849.7M1625.1 848.4L1627.0 847.7L1629.0 846.7M1632.3 845.2L1636.2 843.3M1639.5 841.7L1641.9 840.6L1643.4 840.1M1646.7 838.9L1650.6 837.5M1653.9 836.4L1656.8 835.4L1657.8 835.2M1661.1 834.6L1665.0 834.0M1668.3 833.4L1671.7 832.8L1672.2 832.7M1675.5 832.5L1679.4 832.1M1682.7 831.8L1686.5 831.5L1686.6 831.5M1689.9 831.5L1693.8 831.5M1697.1 831.6L1701.0 831.6M1704.3 831.8L1708.2 832.0M1711.5 832.2L1715.4 832.4M1718.7 832.7L1722.6 833.1M1725.9 833.3L1729.8 833.7M1733.1 833.9L1737.0 834.0M1740.3 834.0L1744.2 834.2M1747.5 834.2L1751.4 834.1M1754.7 834.1L1758.6 834.0M1761.9 834.0L1765.8 833.8M1769.1 833.6L1773.0 833.4M1776.3 833.3L1780.2 833.0M1783.5 832.8L1787.4 832.6M1790.7 832.4L1794.6 832.2M1797.9 832.0L1801.8 831.8M1805.1 831.6L1805.6 831.6L1809.0 831.4M1812.3 831.2L1816.2 831.0M1819.5 830.9L1820.5 830.8L1823.4 830.7M1826.7 830.6L1830.6 830.5M1833.9 830.4L1835.4 830.4L1837.8 830.4M1841.1 830.4L1845.0 830.3M1848.3 830.3L1850.2 830.3L1852.2 830.3M1855.5 830.4L1859.4 830.5M1862.7 830.6L1865.1 830.6L1866.6 830.7M1869.9 830.8L1873.8 831.0M1877.1 831.2L1880.0 831.3L1881.0 831.3M1884.3 831.5L1888.2 831.7M1891.5 831.8L1894.9 832.0L1895.4 832.0M1898.7 832.1L1902.6 832.3M1905.9 832.4L1909.8 832.5L1909.8 832.5M1913.1 832.5L1917.0 832.5M1920.3 832.5L1924.2 832.5M1927.5 832.5L1931.4 832.5M1934.7 832.5L1938.6 832.5M1941.9 832.5L1945.8 832.5M1949.1 832.5L1953.0 832.5M1956.3 832.5L1960.2 832.5M1963.5 832.5L1967.4 832.5M1970.7 832.5L1974.6 832.5M1977.9 832.5L1981.8 832.5M1985.1 832.5L1989.0 832.5M1992.3 832.5L1996.2 832.5M1999.5 832.5L2003.4 832.5M2006.7 832.5L2010.6 832.5M2013.9 832.5L2013.9 832.5L2017.8 832.5M2021.1 832.5L2025.0 832.5M2028.3 832.5L2028.8 832.5L2032.2 832.5M2035.5 832.5L2039.4 832.5M2042.7 832.5L2043.7 832.5L2046.6 832.5M2049.9 832.5L2053.8 832.5M2057.1 832.5L2058.6 832.5L2061.0 832.5M2064.3 832.5L2068.2 832.5M2071.5 832.5L2073.5 832.5L2075.4 832.5M2078.7 832.5L2082.6 832.5M2085.9 832.5L2088.3 832.5L2089.8 832.5M2093.1 832.5L2097.0 832.5M2100.3 832.5L2103.2 832.5L2104.2 832.5M2107.5 832.5L2111.4 832.5M2114.7 832.5L2118.1 832.5L2118.6 832.5M2121.9 832.5L2125.8 832.5M2129.1 832.5L2133.0 832.5L2133.0 832.5M2136.3 832.5L2140.2 832.5M2143.5 832.5L2147.4 832.5M2150.7 832.5L2154.6 832.5M2157.9 832.5L2161.8 832.5M2165.1 832.5L2169.0 832.5M2172.3 832.5L2176.2 832.5M2179.5 832.5L2183.4 832.5M2186.7 832.5L2190.6 832.5M2193.9 832.5L2197.8 832.5M2201.1 832.5L2205.0 832.5M2208.3 832.5L2212.2 832.5M2215.5 832.5L2219.4 832.5M2222.7 832.5L2226.6 832.5M2229.9 832.5L2233.8 832.5M2237.1 832.5L2237.2 832.5L2241.0 832.5M2244.3 832.5L2248.2 832.5M2251.5 832.5L2252.1 832.5L2255.4 832.5M2258.7 832.5L2262.6 832.5M2265.9 832.5L2266.9 832.5L2269.8 832.5M2273.1 832.5L2277.0 832.5M2280.3 832.5L2281.8 832.5L2284.2 832.5M2287.5 832.5L2291.4 832.5M2294.7 832.5L2296.7 832.5" stroke="#008000"/>
</g>
<g stroke="#000" fill="none">
<line x1="212.8" y1="33" x2="2297.7" y2="33" stroke-width="2"/>
<line x1="213.5" y1="32" x2="213.5" y2="1428.4" stroke-width="1.4"/>
<line x1="212.8" y1="1427.7" x2="2297.7" y2="1427.7" stroke-width="1.4"/>
<line x1="2297" y1="32" x2="2297" y2="1428.4" stroke-width="1.4"/>
</g>
<g font-family="'Liberation Serif', serif" fill="#000">
<text transform="translate(212.6 1499.2) scale(1.0200 1.0100)" font-size="58.7" text-anchor="middle">120</text>
<text transform="translate(510.0 1499.2) scale(1.0200 1.0100)" font-size="58.7" text-anchor="middle">140</text>
<text transform="translate(807.7 1499.2) scale(1.0200 1.0100)" font-size="58.7" text-anchor="middle">160</text>
<text transform="translate(1105.1 1499.2) scale(1.0200 1.0100)" font-size="58.7" text-anchor="middle">180</text>
<text transform="translate(1403.7 1499.2) scale(1.0200 1.0100)" font-size="58.7" text-anchor="middle">200</text>
<text transform="translate(1700.9 1499.2) scale(1.0200 1.0100)" font-size="58.7" text-anchor="middle">220</text>
<text transform="translate(1998.4 1499.2) scale(1.0200 1.0100)" font-size="58.7" text-anchor="middle">240</text>
<text transform="translate(2296.1 1499.2) scale(1.0200 1.0100)" font-size="58.7" text-anchor="middle">260</text>
<text transform="translate(203.3 58.4) scale(1.0110 1.0670)" font-size="58.7" text-anchor="end">1.04</text>
<text transform="translate(203.3 257.7) scale(1.0110 1.0670)" font-size="58.7" text-anchor="end">1.03</text>
<text transform="translate(203.3 456.8) scale(1.0110 1.0670)" font-size="58.7" text-anchor="end">1.02</text>
<text transform="translate(203.3 656.6) scale(1.0110 1.0670)" font-size="58.7" text-anchor="end">1.01</text>
<text transform="translate(203.3 855.9) scale(1.0110 1.0670)" font-size="58.7" text-anchor="end">1</text>
<text transform="translate(203.3 1055.6) scale(1.0110 1.0670)" font-size="58.7" text-anchor="end">0.99</text>
<text transform="translate(203.3 1255.0) scale(1.0110 1.0670)" font-size="58.7" text-anchor="end">0.98</text>
<text transform="translate(203.3 1453.2) scale(1.0110 1.0670)" font-size="58.7" text-anchor="end">0.97</text>
<text y="1562.50" font-size="69.3"><tspan x="1025.32" textLength="153.14" lengthAdjust="spacingAndGlyphs">Time</tspan> <tspan x="1195.04" textLength="286.79" lengthAdjust="spacingAndGlyphs">(x0.01sec)</tspan></text>
<text transform="translate(69.00 0) rotate(-90)" font-size="70.0"><tspan x="-1083.55" textLength="300.37" lengthAdjust="spacingAndGlyphs">Generator</tspan> <tspan x="-768.23" textLength="214.09" lengthAdjust="spacingAndGlyphs">Speeds</tspan> <tspan x="-538.73" textLength="158.29" lengthAdjust="spacingAndGlyphs">(p.u.)</tspan></text>
</g>
<rect x="1557.1" y="49.0" width="724.2" height="567.3" fill="#fff" stroke="#000" stroke-width="1.8"/>
<g fill="none">
<line x1="1581.2" y1="101.5" x2="1697" y2="101.5" stroke="#0000ff" stroke-width="6.5" stroke-dasharray="3.7 1.6"/>
<line x1="1580" y1="193.3" x2="1697" y2="193.3" stroke="#74d897" stroke-width="6.5" stroke-dasharray="1 1" shape-rendering="crispEdges"/>
<line x1="1580" y1="286.7" x2="1696.7" y2="286.7" stroke="#ff0000" stroke-width="6.5"/>
<line x1="1580" y1="378.3" x2="1696.7" y2="378.3" stroke="#cccc00" stroke-width="1.3"/>
<line x1="1580" y1="470.5" x2="1696.7" y2="470.5" stroke="#b03000" stroke-width="6.5"/>
<line x1="1579.9" y1="562.8" x2="1696.7" y2="562.8" stroke="#74d897" stroke-width="6.5" stroke-dasharray="1 6.2" stroke-dashoffset="-5.05" opacity="0.6"/>
<line x1="1579.9" y1="562.8" x2="1696.7" y2="562.8" stroke="#008000" stroke-width="6.5" stroke-dasharray="3.9 3.3"/>
</g>
<g font-family="'Liberation Serif', serif" fill="#000">
<text y="127.30" font-size="70.0"><tspan x="1707.45" textLength="299.87" lengthAdjust="spacingAndGlyphs">Generator</tspan> <tspan x="2022.73" textLength="34.57" lengthAdjust="spacingAndGlyphs">1</tspan> <tspan x="2074.97" textLength="110.60" lengthAdjust="spacingAndGlyphs">Bus</tspan> <tspan x="2199.75" textLength="34.43" lengthAdjust="spacingAndGlyphs">1</tspan></text>
<text y="219.80" font-size="70.0"><tspan x="1707.45" textLength="299.87" lengthAdjust="spacingAndGlyphs">Generator</tspan> <tspan x="2022.82" textLength="38.28" lengthAdjust="spacingAndGlyphs">2</tspan> <tspan x="2074.97" textLength="110.60" lengthAdjust="spacingAndGlyphs">Bus</tspan> <tspan x="2199.64" textLength="38.04" lengthAdjust="spacingAndGlyphs">2</tspan></text>
<text y="311.70" font-size="70.0"><tspan x="1707.45" textLength="299.87" lengthAdjust="spacingAndGlyphs">Generator</tspan> <tspan x="2022.75" textLength="36.09" lengthAdjust="spacingAndGlyphs">3</tspan> <tspan x="2074.97" textLength="110.60" lengthAdjust="spacingAndGlyphs">Bus</tspan> <tspan x="2199.72" textLength="37.95" lengthAdjust="spacingAndGlyphs">7</tspan></text>
<text y="404.60" font-size="70.0"><tspan x="1707.45" textLength="299.87" lengthAdjust="spacingAndGlyphs">Generator</tspan> <tspan x="2021.81" textLength="37.54" lengthAdjust="spacingAndGlyphs">5</tspan> <tspan x="2074.97" textLength="110.60" lengthAdjust="spacingAndGlyphs">Bus</tspan><tspan x="2182.88" textLength="69.66" lengthAdjust="spacingAndGlyphs">15</tspan></text>
<text y="496.90" font-size="70.0"><tspan x="1707.45" textLength="299.87" lengthAdjust="spacingAndGlyphs">Generator</tspan> <tspan x="2024.78" textLength="34.59" lengthAdjust="spacingAndGlyphs">9</tspan> <tspan x="2074.40" textLength="107.86" lengthAdjust="spacingAndGlyphs">bus</tspan> <tspan x="2196.61" textLength="67.38" lengthAdjust="spacingAndGlyphs">21</tspan></text>
<text y="589.40" font-size="70.0"><tspan x="1707.45" textLength="299.87" lengthAdjust="spacingAndGlyphs">Generator</tspan> <tspan x="2022.48" textLength="71.87" lengthAdjust="spacingAndGlyphs">12</tspan> <tspan x="2108.30" textLength="107.45" lengthAdjust="spacingAndGlyphs">bus</tspan> <tspan x="2230.08" textLength="68.06" lengthAdjust="spacingAndGlyphs">26</tspan></text>
</g>
</svg>
</body>
</html>
